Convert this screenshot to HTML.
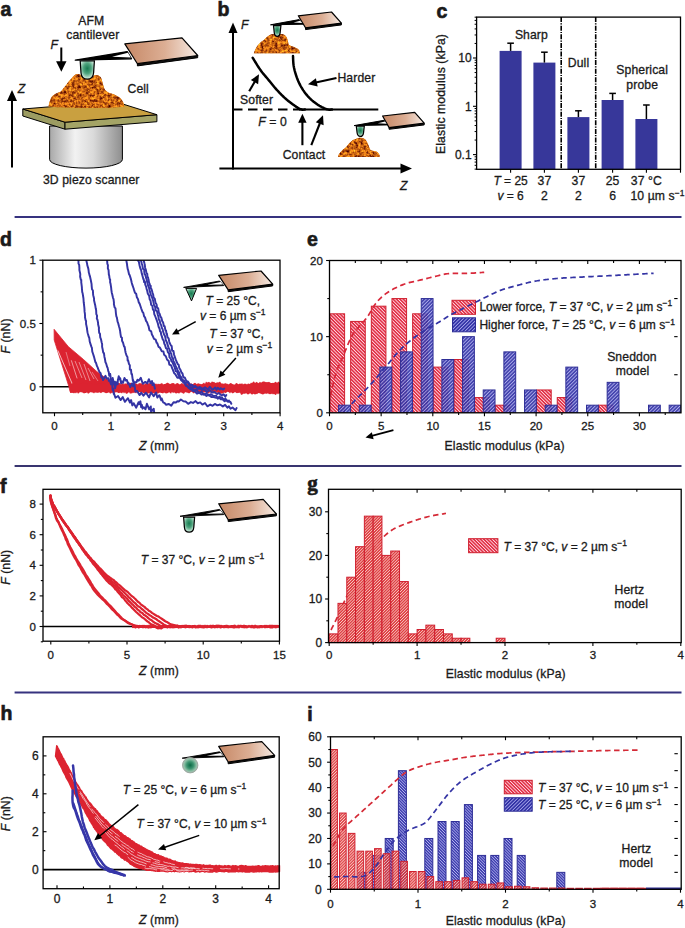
<!DOCTYPE html><html><head><meta charset="utf-8"><style>html,body{margin:0;padding:0;background:#fff;}svg{display:block;}text{stroke:#1a1a1a;stroke-width:0.3px;}text.l{letter-spacing:0.1px;}text.pl{stroke-width:0.65px;}</style></head><body>
<svg width="685" height="928" viewBox="0 0 685 928" font-family='"Liberation Sans", sans-serif' fill="#1a1a1a">
<defs>
<filter id="tex" x="-5%" y="-5%" width="110%" height="110%" color-interpolation-filters="sRGB">
  <feTurbulence type="fractalNoise" baseFrequency="0.36" numOctaves="3" seed="5" result="n"/>
  <feColorMatrix in="n" type="matrix" result="c" values="
     1.45 0 0 0 0.06
     1.2 0 0 0 -0.21
     0.25 0 0 0 -0.05
     0 0 0 0 1"/>
  <feComposite in="c" in2="SourceAlpha" operator="in"/>
</filter>
<linearGradient id="chipg" x1="0" y1="0" x2="1" y2="0">
  <stop offset="0" stop-color="#c68866"/>
  <stop offset="0.55" stop-color="#dcae94"/>
  <stop offset="1" stop-color="#f6ebe4"/>
</linearGradient>
<radialGradient id="tipg" cx="0.5" cy="0.42" r="0.62">
  <stop offset="0" stop-color="#167a50"/>
  <stop offset="0.45" stop-color="#4ea47e"/>
  <stop offset="0.85" stop-color="#c6e6d6"/>
  <stop offset="1" stop-color="#e6f4ec"/>
</radialGradient>
<radialGradient id="sphg" cx="0.5" cy="0.5" r="0.5">
  <stop offset="0" stop-color="#0a6a44"/>
  <stop offset="0.45" stop-color="#3c9470"/>
  <stop offset="0.8" stop-color="#8fc0a6"/>
  <stop offset="1" stop-color="#a8b8b0"/>
</radialGradient>
<linearGradient id="cylg" x1="0" y1="0" x2="1" y2="0">
  <stop offset="0" stop-color="#a8a8a8"/>
  <stop offset="0.35" stop-color="#f2f2f2"/>
  <stop offset="0.6" stop-color="#dadada"/>
  <stop offset="1" stop-color="#8e8e8e"/>
</linearGradient>
<pattern id="hrB" width="2.4" height="2.4" patternUnits="userSpaceOnUse" patternTransform="rotate(-45)">
  <rect width="2.4" height="2.4" fill="#e0283e"/><rect x="0" width="0.9" height="2.4" fill="#ffdce6"/>
</pattern>
<pattern id="hrF" width="2.05" height="2.05" patternUnits="userSpaceOnUse" patternTransform="rotate(45)">
  <rect width="2.05" height="2.05" fill="#dc2a30"/><rect x="0" width="0.72" height="2.05" fill="#f6c8c0"/>
</pattern>
<pattern id="hbF" width="2.5" height="2.5" patternUnits="userSpaceOnUse" patternTransform="rotate(45)">
  <rect width="2.5" height="2.5" fill="#3232a6"/><rect x="0" width="0.8" height="2.5" fill="#a8a8ec"/>
</pattern>
<pattern id="hbB" width="2.05" height="2.05" patternUnits="userSpaceOnUse" patternTransform="rotate(-45)">
  <rect width="2.05" height="2.05" fill="#3c3cae"/><rect x="0" width="0.72" height="2.05" fill="#b4b4ee"/>
</pattern>
</defs>
<rect width="685" height="928" fill="#fff"/>
<text x="0.5" y="15.5" font-size="19.5" text-anchor="start" class="pl" font-weight="bold">a</text>
<path d="M49.6 126 L49.6 159.5 A36.4 8.6 0 0 0 122.4 159.5 L122.4 126 Z" fill="url(#cylg)" stroke="#000" stroke-width="1"/>
<path d="M22.8 109 L65 122.2 L65 129.2 L22.8 116 Z" fill="#9c9c62" stroke="#000" stroke-width="1" stroke-linejoin="round"/>
<path d="M65 122.2 L156.9 114.7 L156.9 121.7 L65 129.2 Z" fill="#a4a466" stroke="#000" stroke-width="1" stroke-linejoin="round"/>
<path d="M22.8 109 L114.7 101.5 L156.9 114.7 L65 122.2 Z" fill="#c9a040" stroke="#000" stroke-width="1" stroke-linejoin="round"/>
<path d="M48.5 106.6 C49.5 101 51 97 53.1 95.5 C56 93 59 92.5 61 91.5 C63 89 64.5 87 66.3 85 C68 82 70 80 71.5 78.4 C73.5 76 75 74.6 77 74 C79 73.6 81 74.5 82.5 77 L92.6 77.5 C93.5 75.5 95 75 97 75.3 C99 75.6 100.5 76.5 101.5 79 C102.5 82 103 85 104 88 C105 91 108 92.5 111 93.5 C114.5 94.5 118 96 120.2 98.1 C122 100 123.2 102 123.8 104 L124.1 106.8 C105 108.5 70 108.5 48.5 106.6 Z" fill="#c8781e"/>
<path d="M48.5 106.6 C49.5 101 51 97 53.1 95.5 C56 93 59 92.5 61 91.5 C63 89 64.5 87 66.3 85 C68 82 70 80 71.5 78.4 C73.5 76 75 74.6 77 74 C79 73.6 81 74.5 82.5 77 L92.6 77.5 C93.5 75.5 95 75 97 75.3 C99 75.6 100.5 76.5 101.5 79 C102.5 82 103 85 104 88 C105 91 108 92.5 111 93.5 C114.5 94.5 118 96 120.2 98.1 C122 100 123.2 102 123.8 104 L124.1 106.8 C105 108.5 70 108.5 48.5 106.6 Z" fill="#000" filter="url(#tex)" opacity="0.95"/>
<path d="M137.4 63.7 L197.7 55.5 L197.7 57.7 L137.4 65.9 Z" fill="#111" stroke="#000" stroke-width="1" stroke-linejoin="round"/>
<path d="M124.8 43.9 L182 37.8 L197.7 55.5 L137.4 63.7 Z" fill="url(#chipg)" stroke="#000" stroke-width="1.2" stroke-linejoin="round"/>
<path d="M75.3 60.2 L127.2 51.6 L131.5 58.8 Z" fill="#000" stroke="#000" stroke-width="1.3" stroke-linejoin="round"/>
<path d="M112.05 56.8 L127.94 52.84 L130.76 57.56 Z" fill="#fff"/>
<path d="M80.2 60.8 L94.4 60.8 L93.6 72.81 Q93.2 79.2 87.3 79.2 Q81.4 79.2 81 72.81 Z" fill="url(#tipg)" stroke="#000" stroke-width="1.25"/>
<line x1="12" y1="167.4" x2="12" y2="100" stroke="#000" stroke-width="2" />
<path d="M12 90 L17 101 L7 101 Z" fill="#000"/>
<text x="17.8" y="93" font-size="12.2" text-anchor="start" class="l" font-style="italic">Z</text>
<line x1="61.3" y1="47.5" x2="61.3" y2="62.3" stroke="#000" stroke-width="2" />
<path d="M61.3 71.8 L56.1 61.3 L66.5 61.3 Z" fill="#000"/>
<text x="50.6" y="49.3" font-size="12.2" text-anchor="start" class="l" font-style="italic">F</text>
<text x="91.2" y="24.5" font-size="12.2" text-anchor="middle" class="l" >AFM</text>
<text x="92.8" y="39.4" font-size="12.2" text-anchor="middle" class="l" >cantilever</text>
<text x="138.2" y="92.9" font-size="12.2" text-anchor="middle" class="l" >Cell</text>
<text x="91.2" y="184.2" font-size="12.2" text-anchor="middle" class="l" >3D piezo scanner</text>
<text x="217.5" y="15.5" font-size="19.5" text-anchor="start" class="pl" font-weight="bold">b</text>
<line x1="233" y1="169.5" x2="233" y2="32" stroke="#000" stroke-width="2" />
<path d="M233 22.5 L237.5 33 L228.5 33 Z" fill="#000"/>
<line x1="219.4" y1="168.6" x2="401.5" y2="168.6" stroke="#000" stroke-width="2" />
<path d="M412 168.6 L400.5 173.6 L400.5 163.6 Z" fill="#000"/>
<text x="241" y="28.5" font-size="12.2" text-anchor="start" class="l" font-style="italic">F</text>
<text x="400" y="190.2" font-size="12.2" text-anchor="start" class="l" font-style="italic">Z</text>
<line x1="233" y1="109.5" x2="300" y2="109.5" stroke="#000" stroke-width="2" stroke-dasharray="9.5 5.5"/>
<line x1="299" y1="109.5" x2="378.3" y2="109.5" stroke="#000" stroke-width="2" />
<path d="M252.7 57.8 L253.08 58.41 L253.56 59.18 L254.12 60.09 L254.75 61.12 L255.43 62.24 L256.16 63.41 L256.9 64.61 L257.66 65.81 L258.42 66.99 L259.15 68.12 L259.85 69.16 L260.5 70.1 L261.31 71.21 L262.09 72.24 L262.86 73.2 L263.62 74.11 L264.37 75.01 L265.14 75.9 L265.93 76.81 L266.74 77.77 L267.6 78.8 L268.33 79.69 L269.08 80.62 L269.86 81.58 L270.65 82.56 L271.45 83.55 L272.26 84.54 L273.07 85.53 L273.88 86.51 L274.7 87.47 L275.5 88.4 L276.3 89.3 L277.17 90.26 L278.04 91.2 L278.91 92.12 L279.78 93.03 L280.64 93.92 L281.51 94.79 L282.38 95.65 L283.25 96.48 L284.13 97.3 L285 98.1 L285.98 98.97 L286.98 99.83 L287.99 100.67 L289 101.49 L290.01 102.28 L291 103.04 L291.96 103.77 L292.9 104.46 L293.8 105.1 L295.1 106.01 L296.37 106.86 L297.59 107.62 L298.74 108.3 L299.82 108.86 L300.8 109.3 L302.56 109.67 L304.01 109.6 L305 109.5" fill="none" stroke="#000" stroke-width="2.5" stroke-linejoin="round" stroke-linecap="round" />
<path d="M293 56 L293.04 56.81 L293.08 57.87 L293.12 59.13 L293.18 60.54 L293.27 62.04 L293.39 63.59 L293.57 65.13 L293.8 66.6 L294.03 67.76 L294.3 68.96 L294.59 70.2 L294.92 71.45 L295.27 72.71 L295.64 73.97 L296.03 75.21 L296.44 76.44 L296.86 77.64 L297.3 78.8 L297.8 80.05 L298.32 81.28 L298.87 82.49 L299.44 83.68 L300.03 84.84 L300.64 85.99 L301.27 87.11 L301.93 88.22 L302.6 89.3 L303.29 90.36 L304.01 91.4 L304.74 92.43 L305.5 93.43 L306.27 94.41 L307.07 95.36 L307.89 96.3 L308.73 97.21 L309.6 98.1 L310.5 98.97 L311.44 99.83 L312.4 100.67 L313.39 101.49 L314.4 102.28 L315.41 103.04 L316.42 103.77 L317.42 104.46 L318.4 105.1 L319.52 105.79 L320.67 106.44 L321.84 107.06 L322.99 107.62 L324.12 108.14 L325.19 108.6 L326.2 108.99 L327.1 109.3 L328.71 109.64 L330.09 109.66 L331.21 109.56 L332 109.5" fill="none" stroke="#000" stroke-width="2.5" stroke-linejoin="round" stroke-linecap="round" />
<line x1="249.2" y1="91.3" x2="255" y2="81.23" stroke="#000" stroke-width="2.1" />
<path d="M259 74.3 L258.14 84.19 L250.87 80 Z" fill="#000"/>
<text x="256.6" y="104.2" font-size="12.2" text-anchor="middle" class="l" >Softer</text>
<line x1="336.5" y1="78" x2="315.82" y2="82.5" stroke="#000" stroke-width="2.1" />
<path d="M308 84.2 L315.9 78.18 L317.69 86.39 Z" fill="#000"/>
<text x="356.4" y="82.4" font-size="12.2" text-anchor="middle" class="l" >Harder</text>
<text x="272.5" y="125.6" font-size="12.2" text-anchor="middle" class="l" ><tspan font-style="italic">F</tspan> = 0</text>
<line x1="302.4" y1="145.2" x2="302.4" y2="121.8" stroke="#000" stroke-width="2.1" />
<path d="M302.4 113.8 L306.6 122.8 L298.2 122.8 Z" fill="#000"/>
<line x1="311.3" y1="145.2" x2="320.08" y2="122.75" stroke="#000" stroke-width="2.1" />
<path d="M323 115.3 L323.63 125.21 L315.81 122.15 Z" fill="#000"/>
<text x="304" y="159.4" font-size="12.2" text-anchor="middle" class="l" >Contact</text>
<path d="M253.8 53.3 C255 50 256.5 47 258.1 45 C260 42.5 262 41 264 39.9 C266 38 267.5 36.5 269.1 35.5 C271 34.5 272.5 34.1 274.2 34.1 L281.5 34.1 C283.5 34.5 285 35.2 285.9 36.3 C287 38 287.8 40 288 41.4 C288.3 43 288.5 44.5 289 45 C291 46 293 46.5 294.6 47.2 C296.5 48 298 49 299 50.1 L299.9 53.3 Z" fill="#c8781e"/>
<path d="M253.8 53.3 C255 50 256.5 47 258.1 45 C260 42.5 262 41 264 39.9 C266 38 267.5 36.5 269.1 35.5 C271 34.5 272.5 34.1 274.2 34.1 L281.5 34.1 C283.5 34.5 285 35.2 285.9 36.3 C287 38 287.8 40 288 41.4 C288.3 43 288.5 44.5 289 45 C291 46 293 46.5 294.6 47.2 C296.5 48 298 49 299 50.1 L299.9 53.3 Z" fill="#000" filter="url(#tex)" opacity="0.95"/>
<path d="M305.5 27.8 L341.4 23.1 L341.4 24.9 L305.5 29.6 Z" fill="#111" stroke="#000" stroke-width="1" stroke-linejoin="round"/>
<path d="M298.3 15.8 L331.5 12 L341.4 23.1 L305.5 27.8 Z" fill="url(#chipg)" stroke="#000" stroke-width="1.2" stroke-linejoin="round"/>
<path d="M270.5 24.8 L299.2 19.6 L303.2 24.2 Z" fill="#000" stroke="#000" stroke-width="1" stroke-linejoin="round"/>
<path d="M293.52 22.62 L300.15 20.69 L302.25 23.11 Z" fill="#fff"/>
<path d="M273.5 25.6 L280.9 25.6 L280.1 32.97 Q279.7 36.3 277.2 36.3 Q274.7 36.3 274.3 32.97 Z" fill="url(#tipg)" stroke="#000" stroke-width="1.25"/>
<path d="M338 156.9 C338.5 154.5 339.5 153 341 151.7 C343 149.5 344.5 148.5 346 147.3 C347.5 145.5 349 143.5 350.4 142.2 C352 140.8 353.3 139.8 354.8 139.3 C357 138.5 359 137.8 360.7 137.8 C363 138 364.8 138.8 365.8 140 C367 142 368 144 368.7 145.9 C369.5 148 370 149.5 370.9 150.3 C373 151 375 151.2 376.7 151.7 C378.3 152.5 379.2 154 379.6 155.4 L379.7 156.9 Z" fill="#c8781e"/>
<path d="M338 156.9 C338.5 154.5 339.5 153 341 151.7 C343 149.5 344.5 148.5 346 147.3 C347.5 145.5 349 143.5 350.4 142.2 C352 140.8 353.3 139.8 354.8 139.3 C357 138.5 359 137.8 360.7 137.8 C363 138 364.8 138.8 365.8 140 C367 142 368 144 368.7 145.9 C369.5 148 370 149.5 370.9 150.3 C373 151 375 151.2 376.7 151.7 C378.3 152.5 379.2 154 379.6 155.4 L379.7 156.9 Z" fill="#000" filter="url(#tex)" opacity="0.95"/>
<path d="M389.1 127.6 L424.2 123.2 L424.2 124.9 L389.1 129.3 Z" fill="#111" stroke="#000" stroke-width="1" stroke-linejoin="round"/>
<path d="M382.6 116 L414.7 112.3 L424.2 123.2 L389.1 127.6 Z" fill="url(#chipg)" stroke="#000" stroke-width="1.2" stroke-linejoin="round"/>
<path d="M354.1 125.6 L384.1 120.3 L387.6 124.9 Z" fill="#000" stroke="#000" stroke-width="1" stroke-linejoin="round"/>
<path d="M377.91 123.35 L384.98 121.45 L386.72 123.75 Z" fill="#fff"/>
<path d="M356.3 126.2 L364.3 126.2 L363.5 132.8 Q363.1 136.4 360.3 136.4 Q357.5 136.4 357.1 132.8 Z" fill="url(#tipg)" stroke="#000" stroke-width="1.25"/>
<text x="436.5" y="17.6" font-size="19.5" text-anchor="start" class="pl" font-weight="bold">c</text>
<rect x="499.6" y="50.9" width="22" height="118.4" fill="#37379a"/>
<line x1="510.6" y1="50.9" x2="510.6" y2="43.2" stroke="#000" stroke-width="1.5" />
<line x1="507.3" y1="43.2" x2="513.9" y2="43.2" stroke="#000" stroke-width="1.5" />
<rect x="533.4" y="62.6" width="22" height="106.7" fill="#37379a"/>
<line x1="544.4" y1="62.6" x2="544.4" y2="52.2" stroke="#000" stroke-width="1.5" />
<line x1="541.1" y1="52.2" x2="547.7" y2="52.2" stroke="#000" stroke-width="1.5" />
<rect x="567.4" y="117.1" width="22" height="52.2" fill="#37379a"/>
<line x1="578.4" y1="117.1" x2="578.4" y2="110.8" stroke="#000" stroke-width="1.5" />
<line x1="575.1" y1="110.8" x2="581.7" y2="110.8" stroke="#000" stroke-width="1.5" />
<rect x="601.6" y="100" width="22" height="69.3" fill="#37379a"/>
<line x1="612.6" y1="100" x2="612.6" y2="93.4" stroke="#000" stroke-width="1.5" />
<line x1="609.3" y1="93.4" x2="615.9" y2="93.4" stroke="#000" stroke-width="1.5" />
<rect x="635.4" y="119" width="22" height="50.3" fill="#37379a"/>
<line x1="646.4" y1="119" x2="646.4" y2="105" stroke="#000" stroke-width="1.5" />
<line x1="643.1" y1="105" x2="649.7" y2="105" stroke="#000" stroke-width="1.5" />
<line x1="561.2" y1="17.1" x2="561.2" y2="169.3" stroke="#000" stroke-width="1.6" stroke-dasharray="5 1.2 1.2 1.2"/>
<line x1="595.7" y1="17.1" x2="595.7" y2="169.3" stroke="#000" stroke-width="1.6" stroke-dasharray="5 1.2 1.2 1.2"/>
<rect x="476.6" y="17.1" width="203.9" height="152.2" fill="none" stroke="#000" stroke-width="1.3"/>
<line x1="473" y1="58" x2="476.6" y2="58" stroke="#000" stroke-width="1.1" />
<line x1="473" y1="106.3" x2="476.6" y2="106.3" stroke="#000" stroke-width="1.1" />
<line x1="473" y1="154.6" x2="476.6" y2="154.6" stroke="#000" stroke-width="1.1" />
<line x1="474.6" y1="169.14" x2="476.6" y2="169.14" stroke="#000" stroke-width="1" />
<line x1="474.6" y1="165.32" x2="476.6" y2="165.32" stroke="#000" stroke-width="1" />
<line x1="474.6" y1="162.08" x2="476.6" y2="162.08" stroke="#000" stroke-width="1" />
<line x1="474.6" y1="159.28" x2="476.6" y2="159.28" stroke="#000" stroke-width="1" />
<line x1="474.6" y1="156.81" x2="476.6" y2="156.81" stroke="#000" stroke-width="1" />
<line x1="474.6" y1="140.06" x2="476.6" y2="140.06" stroke="#000" stroke-width="1" />
<line x1="474.6" y1="131.56" x2="476.6" y2="131.56" stroke="#000" stroke-width="1" />
<line x1="474.6" y1="125.52" x2="476.6" y2="125.52" stroke="#000" stroke-width="1" />
<line x1="474.6" y1="120.84" x2="476.6" y2="120.84" stroke="#000" stroke-width="1" />
<line x1="474.6" y1="117.02" x2="476.6" y2="117.02" stroke="#000" stroke-width="1" />
<line x1="474.6" y1="113.78" x2="476.6" y2="113.78" stroke="#000" stroke-width="1" />
<line x1="474.6" y1="110.98" x2="476.6" y2="110.98" stroke="#000" stroke-width="1" />
<line x1="474.6" y1="108.51" x2="476.6" y2="108.51" stroke="#000" stroke-width="1" />
<line x1="474.6" y1="91.76" x2="476.6" y2="91.76" stroke="#000" stroke-width="1" />
<line x1="474.6" y1="83.26" x2="476.6" y2="83.26" stroke="#000" stroke-width="1" />
<line x1="474.6" y1="77.22" x2="476.6" y2="77.22" stroke="#000" stroke-width="1" />
<line x1="474.6" y1="72.54" x2="476.6" y2="72.54" stroke="#000" stroke-width="1" />
<line x1="474.6" y1="68.72" x2="476.6" y2="68.72" stroke="#000" stroke-width="1" />
<line x1="474.6" y1="65.48" x2="476.6" y2="65.48" stroke="#000" stroke-width="1" />
<line x1="474.6" y1="62.68" x2="476.6" y2="62.68" stroke="#000" stroke-width="1" />
<line x1="474.6" y1="60.21" x2="476.6" y2="60.21" stroke="#000" stroke-width="1" />
<line x1="474.6" y1="43.46" x2="476.6" y2="43.46" stroke="#000" stroke-width="1" />
<line x1="474.6" y1="34.96" x2="476.6" y2="34.96" stroke="#000" stroke-width="1" />
<line x1="474.6" y1="28.92" x2="476.6" y2="28.92" stroke="#000" stroke-width="1" />
<line x1="474.6" y1="24.24" x2="476.6" y2="24.24" stroke="#000" stroke-width="1" />
<line x1="474.6" y1="20.42" x2="476.6" y2="20.42" stroke="#000" stroke-width="1" />
<line x1="474.6" y1="17.18" x2="476.6" y2="17.18" stroke="#000" stroke-width="1" />
<text x="471.6" y="62.3" font-size="12" text-anchor="end">10</text>
<text x="471.6" y="110.6" font-size="12" text-anchor="end">1</text>
<text x="471.6" y="158.9" font-size="12" text-anchor="end">0.1</text>
<line x1="510.6" y1="169.3" x2="510.6" y2="172.7" stroke="#000" stroke-width="1.1" />
<line x1="544.4" y1="169.3" x2="544.4" y2="172.7" stroke="#000" stroke-width="1.1" />
<line x1="578.4" y1="169.3" x2="578.4" y2="172.7" stroke="#000" stroke-width="1.1" />
<line x1="612.6" y1="169.3" x2="612.6" y2="172.7" stroke="#000" stroke-width="1.1" />
<line x1="646.4" y1="169.3" x2="646.4" y2="172.7" stroke="#000" stroke-width="1.1" />
<line x1="680.5" y1="169.3" x2="680.5" y2="172.7" stroke="#000" stroke-width="1.1" />
<text class="l" x="445.2" y="94" font-size="12.2" text-anchor="middle" transform="rotate(-90 445.2 94)">Elastic modulus (kPa)</text>
<text x="531.4" y="39.4" font-size="12.2" text-anchor="middle" class="l" >Sharp</text>
<text x="578.5" y="66.5" font-size="12.2" text-anchor="middle" class="l" >Dull</text>
<text x="642.2" y="74.4" font-size="12.2" text-anchor="middle" class="l" >Spherical</text>
<text x="642.2" y="88.8" font-size="12.2" text-anchor="middle" class="l" >probe</text>
<text x="510.6" y="184.7" font-size="12" text-anchor="middle" ><tspan font-style="italic">T</tspan> = 25</text>
<text x="544.4" y="184.7" font-size="12.2" text-anchor="middle" class="l" >37</text>
<text x="578.4" y="184.7" font-size="12.2" text-anchor="middle" class="l" >37</text>
<text x="612.6" y="184.7" font-size="12.2" text-anchor="middle" class="l" >25</text>
<text x="646.4" y="184.7" font-size="12.2" text-anchor="middle" class="l" >37 °C</text>
<text x="510.6" y="200" font-size="12" text-anchor="middle" ><tspan font-style="italic">v</tspan> = 6</text>
<text x="544.4" y="200" font-size="12.2" text-anchor="middle" class="l" >2</text>
<text x="578.4" y="200" font-size="12.2" text-anchor="middle" class="l" >2</text>
<text x="612.6" y="200" font-size="12.2" text-anchor="middle" class="l" >6</text>
<text x="657.5" y="200" font-size="12.2" text-anchor="middle" class="l" >10 µm s<tspan dy="-4.5" font-size="8.5">−1</tspan></text>
<line x1="14.6" y1="217" x2="681.5" y2="217" stroke="#36327f" stroke-width="2.2" />
<line x1="14.6" y1="466" x2="681.5" y2="466" stroke="#393570" stroke-width="2" />
<line x1="14.6" y1="692.5" x2="681.5" y2="692.5" stroke="#36327f" stroke-width="2.2" />
<text x="0" y="245.5" font-size="19.5" text-anchor="start" class="pl" font-weight="bold">d</text>
<svg x="42.8" y="260.2" width="237.2" height="152.6" viewBox="42.8 260.2 237.2 152.6" overflow="hidden">
<line x1="42.8" y1="386.8" x2="72" y2="386.8" stroke="#000" stroke-width="1.6" />
<path d="M54.1 329.3 L68.4 346.7 L83.5 359.5 L96.4 371.2 L110.4 381.7 L118 384 L118 391.5 L70.1 391.8 L68.9 386.6 L54.2 340 Z" fill="#dc2330" stroke="#dc2330" stroke-width="0.8" stroke-linejoin="round"/>
<line x1="57.8" y1="350.4" x2="72.4" y2="384.2" stroke="#fff" stroke-width="0.81" opacity="0.85"/>
<line x1="71.3" y1="360.3" x2="77.1" y2="378.4" stroke="#fff" stroke-width="0.63" opacity="0.85"/>
<line x1="75" y1="361" x2="82" y2="378" stroke="#fff" stroke-width="0.54" opacity="0.85"/>
<line x1="79" y1="362" x2="86" y2="380" stroke="#fff" stroke-width="0.54" opacity="0.85"/>
<line x1="84" y1="364" x2="90" y2="381" stroke="#fff" stroke-width="0.54" opacity="0.85"/>
<line x1="88" y1="368" x2="94" y2="379" stroke="#fff" stroke-width="0.54" opacity="0.85"/>
<line x1="66" y1="352" x2="70" y2="366" stroke="#fff" stroke-width="0.45" opacity="0.85"/>
<line x1="92" y1="372" x2="98" y2="381" stroke="#fff" stroke-width="0.45" opacity="0.85"/>
<path d="M70 383.5 L71 384.45 L72 383.62 L73 382.97 L74 383.86 L75 382.79 L76 382.78 L77 383.99 L78 384.56 L79 383.91 L80 382.91 L81 383.66 L82 382.98 L83 382.66 L84 383.48 L85 383.64 L86 383.6 L87 383.51 L88 384.6 L89 384.28 L90 383.23 L91 383.18 L92 384.13 L93 384.29 L94 384.52 L95 382.6 L96 384.42 L97 384.56 L98 382.75 L99 384.16 L100 382.77 L101 384.53 L102 382.84 L103 382.8 L104 384.19 L105 383.72 L106 382.98 L107 382.86 L108 382.83 L109 383.03 L110 384.54 L111 383.21 L112 383.02 L113 384.31 L114 382.8 L115 383.03 L116 384.15 L117 383.19 L118 382.78 L119 383.09 L120 383.34 L121 384.52 L122 383.75 L123 382.97 L124 384.42 L125 383.1 L126 384.08 L127 382.99 L128 384.36 L129 383.44 L130 382.68 L131 383.08 L132 383.11 L133 383.79 L134 382.95 L135 382.74 L136 383.72 L137 383.83 L138 384.43 L139 382.63 L140 383.49 L141 382.95 L142 383.74 L143 383.32 L144 384.56 L145 383.98 L146 382.88 L147 382.64 L148 384 L149 382.64 L150 383.56 L151 383.24 L152 382.75 L153 384.07 L154 384.07 L155 384.19 L156 383.3 L157 384.4 L158 383.43 L159 384.33 L160 383.85 L161 383.77 L162 382.76 L163 384.59 L164 384.06 L165 384.07 L166 383.48 L167 382.77 L168 382.66 L169 383.56 L170 384 L171 383.83 L172 383.11 L173 383.2 L174 383.01 L175 384.41 L176 383.48 L177 383.25 L178 383 L179 384.21 L180 384.36 L181 383.77 L182 382.87 L183 384.27 L184 384.02 L185 383.15 L186 383.5 L187 383.03 L188 383.85 L189 383.23 L190 384.56 L191 382.75 L192 384.35 L193 384.02 L194 383.22 L195 382.64 L196 383.51 L197 384.26 L198 382.88 L199 383.86 L200 383.86 L201 384.21 L202 383.97 L203 383.55 L204 382.62 L205 384.03 L206 381.54 L207 382.39 L208 382.23 L209 381.79 L210 382.81 L211 382.87 L212 381.26 L213 382.25 L214 381.75 L215 382.76 L216 382.89 L217 382.3 L218 382.44 L219 382.28 L220 381.43 L221 382.96 L222 383.67 L223 383.24 L224 384.31 L225 382.77 L226 383.7 L227 383.57 L228 384.22 L229 384.2 L230 383.27 L231 382.88 L232 383.63 L233 384.28 L234 384.49 L235 384.5 L236 383.04 L237 383.18 L238 383.88 L239 384.29 L240 383.22 L241 384.29 L242 383.02 L243 384.54 L244 383.75 L245 383.67 L246 383.81 L247 384.54 L248 383.4 L249 383.73 L250 383.98 L251 382.38 L252 383.21 L253 381.84 L254 381.55 L255 382.93 L256 382.25 L257 381.68 L258 383.15 L259 382.86 L260 381.69 L261 382.67 L262 382.01 L263 381.51 L264 381.55 L265 381.8 L266 382.36 L267 382.05 L268 382.36 L269 381.71 L270 382.58 L271 383 L272 383.01 L273 382.78 L274 383.11 L275 381.93 L276 381.74 L277 383.08 L278 381.78 L279 381.82 L280 382.96 L281 382.88 L281 393.25 L280 393.84 L279 393.19 L278 394.45 L277 393.27 L276 395 L275 394.85 L274 393.63 L273 394.62 L272 393.47 L271 394.22 L270 394.06 L269 394.26 L268 393.32 L267 393.83 L266 393.87 L265 393.4 L264 394.02 L263 394.46 L262 394.24 L261 393.64 L260 393.45 L259 393.05 L258 393.26 L257 394.24 L256 393.63 L255 394.8 L254 393.87 L253 393.95 L252 394.85 L251 393.83 L250 393.13 L249 393.98 L248 394.6 L247 394.03 L246 393.06 L245 394.01 L244 393.4 L243 394.05 L242 394.7 L241 394.8 L240 392.56 L239 392.92 L238 392.85 L237 393.26 L236 392.85 L235 391.97 L234 392.79 L233 393.18 L232 393.25 L231 392.1 L230 393.38 L229 392.15 L228 391.93 L227 391.86 L226 393.34 L225 392.68 L224 392.5 L223 393.62 L222 393.38 L221 393.75 L220 393.6 L219 393.24 L218 393.44 L217 392.21 L216 392.73 L215 393.39 L214 392.94 L213 393.62 L212 392.71 L211 393.24 L210 391.97 L209 393.38 L208 393.31 L207 392.84 L206 392.49 L205 392.16 L204 392.74 L203 392.16 L202 392.2 L201 393.72 L200 393.11 L199 392.69 L198 391.89 L197 392.27 L196 391.85 L195 392.07 L194 393.38 L193 392.94 L192 391.88 L191 391.86 L190 392.7 L189 393.48 L188 392.79 L187 392.63 L186 392.35 L185 392.14 L184 393.7 L183 393.5 L182 392.79 L181 392.43 L180 392.57 L179 393.63 L178 392.66 L177 393.13 L176 393.58 L175 393.12 L174 392.14 L173 393.16 L172 391.82 L171 393.64 L170 392.79 L169 392.26 L168 393 L167 393.3 L166 393.48 L165 392.96 L164 392.58 L163 393.56 L162 393.08 L161 393.02 L160 392.56 L159 392.95 L158 393.38 L157 393.54 L156 393.17 L155 393.63 L154 393.21 L153 393.6 L152 392.89 L151 393.8 L150 393.26 L149 393.07 L148 393.73 L147 393.62 L146 391.87 L145 392.97 L144 393.11 L143 393.58 L142 392.06 L141 392.54 L140 391.92 L139 392.34 L138 392.21 L137 392.36 L136 393.5 L135 392.26 L134 393.24 L133 392.39 L132 393.45 L131 393.21 L130 393.73 L129 392.01 L128 393.01 L127 393.7 L126 393.68 L125 392.18 L124 393.44 L123 392.11 L122 393.53 L121 392.77 L120 392.71 L119 393 L118 392.97 L117 391.95 L116 392.46 L115 392.32 L114 393.78 L113 393.08 L112 392.59 L111 393.57 L110 393.41 L109 392.34 L108 392.64 L107 393.09 L106 393.26 L105 392.69 L104 392.16 L103 391.92 L102 392.29 L101 393.32 L100 392.47 L99 392.34 L98 393.06 L97 392.59 L96 392.74 L95 392.22 L94 393.49 L93 392.57 L92 392.6 L91 391.94 L90 392.26 L89 393.22 L88 393.79 L87 392.36 L86 393.12 L85 393.08 L84 393.48 L83 392.73 L82 392.28 L81 391.92 L80 391.83 L79 393.03 L78 393.73 L77 391.88 L76 393.42 L75 392.41 L74 393.39 L73 392.82 L72 392.97 L71 392.73 L70 392.92 Z" fill="#dc2330"/>
<path d="M77.8 258 L78.14 260.19 L78.46 260.89 L78.51 263.65 L79.18 264.92 L79.41 268.15 L79.38 269.93 L80.31 274.11 L80.23 274.57 L80.15 276.88 L80.24 276.96 L80.83 279.75 L81.27 279.87 L81.27 282.85 L81.39 283.31 L81.87 287.07 L81.9 288.27 L82.24 292.1 L82.64 293.28 L83.22 296.98 L83.47 298.71 L83.69 302.25 L83.83 303.21 L84.29 307.23 L84.43 308.64 L84.61 311.91 L84.87 313.43 L85.08 316.29 L85 317.27 L85.65 320.22 L86.06 320.99 L86.07 324.07 L86.44 325.64 L87.02 328.45 L87.02 329.05 L87.47 332.22 L87.94 334.02 L88.79 336.91 L89.29 338 L89.73 341.55 L90.45 343.84 L91.45 346.88 L91.86 347.69 L92.29 351.56 L92.95 353.46 L93.86 356.36 L94.25 357.78 L95.36 362.01 L95.9 362.62 L96.67 364.99 L96.69 365.43 L97.75 367.62 L98.23 369.2 L99.55 372.15 L100.61 373.18 L101.46 377.44 L101.86 376.43 L103.06 380.1 L105.49 375.83 L106.81 378.57 L108.55 378.13 L108.81 380.85 L109.57 380 L111.09 384.48 L112.66 378.06 L114.19 384.75 L114.92 381.64 L115.11 388.35 L116.59 382.18 L117.58 384.34 L117.91 379.5 L117.8 380.69 L118.74 376.22 L119.98 379.8 L120.18 378.23 L121.06 383.3 L121.82 381.5 L123.05 382.83 L124.45 377.97 L125.88 380.46 L126.87 379.99 L128.06 383.81 L128.4 382.74 L130.3 387.18 L131.87 383.53 L133.12 386.24 L133.66 382.2 L136.42 382.25 L137.53 379.65 L138.75 380.69 L140.79 377.82 L142.8 383.8 L145.31 381.9 L147.34 383.37 L148.86 379.19 L150.66 383.23 L152.04 381.07 L152.48 385.1 L153.7 383.33 L154.9 388.73" fill="none" stroke="#3434a4" stroke-width="1.95" stroke-linejoin="round" stroke-linecap="round" />
<path d="M85.8 258 L86.41 260.05 L86.32 260.45 L87.13 263.87 L87.24 265 L88.31 268.62 L88.6 270.49 L88.82 272.64 L89.06 273.26 L89.74 275.92 L89.84 275.79 L90.6 279.17 L91.02 281.26 L91.58 284.16 L91.63 285.58 L92 289.24 L92.89 290.56 L93.13 294.71 L93.42 296.07 L94.09 298.72 L94.03 300.33 L95.01 304.43 L95.27 305.56 L95.7 308.32 L96.14 310.3 L96.31 314.1 L97.06 315.63 L96.82 318.78 L97.39 319.41 L98.1 323.01 L98.09 324.21 L99.01 328.06 L98.82 328.92 L99.19 332.92 L99.94 333.73 L100.24 337.4 L100.93 339.03 L101.67 342.49 L102.11 344.1 L102.12 346.88 L102.53 348.67 L103.23 352.47 L103.93 353.23 L104.44 356.96 L104.9 358.74 L105.47 362.27 L106.13 363.4 L107.21 367.2 L107.57 367.58 L108.32 371.34 L108.78 372.08 L109.22 375.69 L110.15 373.92 L111.06 380.25 L111.34 379.02 L112.33 385.24 L112.37 382.38 L112.36 387.36 L112.42 387.11 L112.63 390.05 L113.18 388.67 L113.75 393.97 L113.78 392.85 L115.44 397.81 L118.06 396 L120.56 400.06 L122.75 397.15 L124.88 401.8 L127.95 398.17 L129.93 402.56 L131.08 400.05 L132.35 405.4 L133.67 403.19 L136.25 407.66 L138.49 402.27 L138.98 404.35 L140.42 401.28 L141.13 407.04 L141.88 404.83 L142.48 408.7 L143.81 407.24 L145.5 409.25 L146.9 403.76 L149.19 409.39 L150.8 406.43 L151.03 411.82 L153.75 408.76 L154.18 412.37" fill="none" stroke="#3434a4" stroke-width="1.95" stroke-linejoin="round" stroke-linecap="round" />
<path d="M106.6 258 L106.95 260.01 L107.14 260.89 L107.37 263.87 L107.94 265.15 L107.84 268.31 L108.55 270.09 L108.81 273.6 L108.77 274.12 L109.35 276.15 L109.32 277.08 L109.82 279.34 L110.15 279.56 L110.13 282.35 L110.53 283.63 L111.18 287.96 L111.29 289.27 L111.82 292.91 L112.14 294.06 L112.99 297.76 L113.52 299.06 L113.98 302.84 L113.88 303.97 L114.59 307.28 L115.48 308.33 L115.78 311.74 L115.91 313.35 L116.36 316.32 L116.91 317.63 L117.61 321.86 L118.12 322.9 L119.03 326.47 L119.63 328.46 L120.21 331.69 L120.24 332.42 L121.01 337.06 L121.94 337.8 L122.04 340.7 L123.06 342.68 L123.98 346.24 L124.64 347 L125.31 351.03 L125.65 352.74 L126.52 355.55 L127.46 357.01 L127.63 360.49 L128.08 360.27 L128.98 363.97 L129.84 365.21 L129.83 369.53 L131.03 369.8 L131.4 374.03 L131.92 373.93 L132.9 380.79 L133.12 380 L134.18 384.35 L134.11 382.99 L134.96 388.28 L134.62 385.64 L135.41 391.72 L136.93 390.84 L139.53 395.09 L141.13 392.68 L143.45 395.73 L146 392.69 L149.1 397.39 L151.01 392.39 L153.69 396.24 L156.11 392.57 L157.31 397.65 L159.37 395.16 L161.29 400.33 L161.76 398.56 L163.08 402.29 L164.78 403.1 L165.97 404.76 L168.92 403.95 L171.25 405.6 L173.56 402.18 L175.89 402.55 L177.31 401.3 L178.72 401.45 L180.89 399.45 L183.35 401.18 L185.58 401.53 L188.18 403.84 L190.86 402.09 L193 402.93 L195.59 401.06 L197.71 403.21 L200.22 402.41 L202.39 404.57 L205.01 403.02 L207.33 406.29 L210.27 404.54 L212.59 405.83 L214.88 403.91 L217.36 405.32 L219.99 404.54 L222.83 406.43 L225.12 404.88 L227.37 407.64 L228.93 406.35 L230.5 408.77 L232.51 407.45 L235.54 410.17 L236.58 408.08" fill="none" stroke="#3434a4" stroke-width="1.95" stroke-linejoin="round" stroke-linecap="round" />
<path d="M125.5 258 L126 259.5 L126.35 260.57 L127.08 264.54 L127.12 265.37 L127.73 269.23 L128.14 270.18 L129.04 274.16 L129.66 275.14 L130.61 278.11 L131.13 280.09 L131.79 282.98 L132.36 284.95 L133.63 288.54 L134.03 289.9 L134.95 292.73 L136.15 293.73 L136.89 297.36 L138.02 299.33 L138.8 302.4 L139.59 303.59 L140.73 306.97 L141.14 308.21 L142.46 311.83 L143.31 312.89 L144.1 316.29 L145.01 317.4 L146.04 320.9 L147.05 322.29 L148.17 325.46 L148.52 326.04 L149.43 330.19 L151.2 331.39 L151.89 334.5 L152.8 336.04 L154.02 338.88 L155.64 339.65 L156.67 342.85 L157.25 343.09 L158.6 346.97 L159.95 347.72 L161.8 351.2 L163.41 351.35 L164.15 354.86 L165.82 356.22 L167.01 359.52 L168.65 361.05 L169.33 364.51 L171.1 365.29 L172.2 368.39 L172.98 370.03 L174.28 373.3 L175.34 374.23 L177.4 377.81 L179.58 377.49 L181.35 380.58 L183.67 380.22 L185.39 382.89 L188.03 382.77 L190.23 385.86 L191.4 385.11 L193.1 387.02 L195.28 385.86 L197.43 388.06 L199.84 386.95 L202.77 388.85 L204.99 387.3 L207.89 389.36 L209.86 386.86 L212.56 389.81 L215.23 387.48 L216.53 389.84 L217.74 387.77 L219.68 389.53 L220.49 388.19 L223.1 389.55 L224.26 388.59" fill="none" stroke="#3434a4" stroke-width="1.95" stroke-linejoin="round" stroke-linecap="round" />
<path d="M137.3 258 L137.73 260.61 L138.64 260.9 L139.28 263.99 L139.51 265.16 L140.37 268.49 L141.13 270.17 L141.78 273.58 L142.37 275.48 L143.47 279.51 L143.63 278.83 L144.11 282.01 L144.86 281.32 L145.24 284.52 L146.13 286.56 L146.65 289.07 L147.15 290.5 L147.83 293.74 L149.1 295.63 L149.74 299.54 L150.49 300.47 L151.14 304.75 L152.34 305.85 L152.93 309.57 L153.79 310.03 L154.34 314.39 L155.06 315.73 L156.34 319.24 L156.91 320.74 L157.83 323.35 L158.06 324.37 L158.67 327.09 L159.59 328.72 L160.03 331.35 L160.83 331.94 L161.11 334.45 L161.85 336.39 L162.85 339.72 L163.66 340.32 L164.32 343.75 L165.03 344.94 L165.96 348.34 L166.95 348.52 L167.85 352.05 L169.09 353.53 L169.51 357.42 L170.78 358.77 L171.51 361.38 L172.55 362.34 L173.89 365.54 L174.63 367.16 L175.78 371.19 L177.24 371.76 L178.05 374.3 L179.04 376.23 L180.83 378.49 L181.67 379.51 L183.42 382.75 L184.69 382.2 L186.37 386.12 L188.4 386.5 L190.45 389.37 L191.65 387.91 L194.09 390.3 L196.44 389.95 L198.98 393.22 L201.63 391.54 L203.53 394.65 L206.49 393.53 L208.87 395.34 L210.99 394.2 L213.64 396.12 L216.04 395.6 L217.92 398.62 L219.59 396.52 L220.53 397.91 L221.91 397.29 L223.68 400.47 L225.29 398.6 L227.63 401.55 L228.94 400.48" fill="none" stroke="#3434a4" stroke-width="1.95" stroke-linejoin="round" stroke-linecap="round" />
<path d="M140.1 258 L141.02 260.62 L141.08 260.94 L141.93 264.03 L142.27 264.95 L142.96 268.91 L144.04 269.4 L144.57 274.36 L145.28 274.64 L146.39 278.89 L146.67 279.21 L147.18 282.33 L147.17 281.91 L148.23 286.05 L148.85 286.96 L149.82 291.42 L150.08 292.07 L150.9 294.85 L151.81 296.69 L152.92 299.99 L153.18 300.81 L154.08 305.32 L155.08 306.69 L155.54 310.12 L156.98 311.28 L157.75 314.59 L158.45 316.55 L158.77 319.84 L159.56 319.91 L160.25 323.41 L161.24 325.37 L161.79 327.71 L162.57 329.13 L163.12 331.59 L163.35 332.26 L164.08 334.47 L165.08 336.24 L165.66 339.15 L166.01 340.49 L167.11 342.99 L167.32 343.92 L168.66 347.92 L169.42 349.19 L170.45 352.63 L171.23 353.69 L171.84 356.85 L172.94 358.05 L173.34 361.34 L174.21 362.19 L175.74 366.37 L176.64 367.72 L177.71 370.63 L179.16 372.53 L179.9 375.73 L181.28 377.14 L182.35 380.73 L183.73 380.8 L185.56 385.15 L186.95 385.84 L188.74 388.16 L190.7 388.03 L192.39 390.76 L194.65 391.28 L196.98 393.67 L199.17 392.4 L201.45 394.6 L203.75 393.76 L206.47 395.92 L208.72 394.93 L211.36 397.1 L213.52 397.03 L216.29 397.88 L219.01 397.45 L220.81 399.24 L223.68 399.34 L224.82 401.17 L225.75 399.65 L228.7 401.73 L230.3 401.7 L231.32 403.76" fill="none" stroke="#3434a4" stroke-width="1.95" stroke-linejoin="round" stroke-linecap="round" />
<path d="M142.8 258 L143.47 259.98 L143.82 260.92 L144.43 263.33 L144.76 264.49 L145.11 267.71 L145.76 269.53 L146.5 273.17 L147.28 273.98 L147.42 276.97 L148.04 277.34 L148.46 279.63 L148.6 280.01 L149.11 282.93 L149.37 282.93 L150.26 286.1 L150.74 285.76 L150.74 288.18 L151.62 289.43 L152.61 293.12 L153.15 294.5 L153.55 297.43 L154.82 298.9 L155.53 302.8 L156.59 304.45 L157.03 307.58 L158.19 308.33 L158.83 312.75 L159.55 313.62 L160.62 317.08 L161.33 317.64 L162.27 321.36 L163.11 322.43 L163.86 326.02 L164.64 326.2 L165.52 330.68 L166.05 330.49 L166.43 333.53 L166.79 333.26 L167.49 337.21 L168.63 338.33 L169.24 341.7 L169.55 342.73 L170.88 345.4 L171.68 346.02 L172.17 350.8 L173.44 351.02 L174.1 354.74 L174.65 356.32 L175.83 359.88 L176.27 360.79 L177.6 363.91 L178.65 364.82 L179.29 368 L180.26 369.47 L181.55 372.56 L182.49 373.48 L183.47 377.63 L184.72 377.37 L186.27 380.83 L188.09 381.68 L189.88 384.51 L192.24 384.92 L194 387.39 L196.94 387.16 L197.73 388.87 L200.03 388.46 L202.09 389.88 L204.64 389.53 L206.89 392.02 L209.61 390.09 L211.98 392.53 L214.49 392.06 L217.19 394.02 L218.81 392.95 L221.49 395.38 L223.65 394.33 L225.39 396.62 L226.3 395.06" fill="none" stroke="#3434a4" stroke-width="1.95" stroke-linejoin="round" stroke-linecap="round" />
</svg>
<rect x="42.8" y="260.2" width="237.2" height="152.6" fill="none" stroke="#000" stroke-width="1.3"/>
<line x1="39.4" y1="260.2" x2="42.8" y2="260.2" stroke="#000" stroke-width="1.1" />
<line x1="39.4" y1="323.5" x2="42.8" y2="323.5" stroke="#000" stroke-width="1.1" />
<line x1="39.4" y1="386.8" x2="42.8" y2="386.8" stroke="#000" stroke-width="1.1" />
<line x1="40.6" y1="291.85" x2="42.8" y2="291.85" stroke="#000" stroke-width="1.1" />
<line x1="40.6" y1="355.15" x2="42.8" y2="355.15" stroke="#000" stroke-width="1.1" />
<line x1="54.5" y1="412.8" x2="54.5" y2="416.2" stroke="#000" stroke-width="1.1" />
<line x1="110.9" y1="412.8" x2="110.9" y2="416.2" stroke="#000" stroke-width="1.1" />
<line x1="167.3" y1="412.8" x2="167.3" y2="416.2" stroke="#000" stroke-width="1.1" />
<line x1="223.7" y1="412.8" x2="223.7" y2="416.2" stroke="#000" stroke-width="1.1" />
<line x1="280.1" y1="412.8" x2="280.1" y2="416.2" stroke="#000" stroke-width="1.1" />
<line x1="82.7" y1="412.8" x2="82.7" y2="415" stroke="#000" stroke-width="1.1" />
<line x1="139.1" y1="412.8" x2="139.1" y2="415" stroke="#000" stroke-width="1.1" />
<line x1="195.5" y1="412.8" x2="195.5" y2="415" stroke="#000" stroke-width="1.1" />
<line x1="251.9" y1="412.8" x2="251.9" y2="415" stroke="#000" stroke-width="1.1" />
<text x="35.8" y="264.3" font-size="11.5" text-anchor="end" >1</text>
<text x="35.8" y="327.6" font-size="11.5" text-anchor="end" >0.5</text>
<text x="35.8" y="390.9" font-size="11.5" text-anchor="end" >0</text>
<text x="54.5" y="429.9" font-size="11.5" text-anchor="middle" >0</text>
<text x="110.9" y="429.9" font-size="11.5" text-anchor="middle" >1</text>
<text x="167.3" y="429.9" font-size="11.5" text-anchor="middle" >2</text>
<text x="223.7" y="429.9" font-size="11.5" text-anchor="middle" >3</text>
<text x="280.1" y="429.9" font-size="11.5" text-anchor="middle" >4</text>
<text x="159" y="450.2" font-size="12.2" text-anchor="middle" class="l" ><tspan font-style="italic">Z</tspan> (mm)</text>
<text class="l" x="10.2" y="336" font-size="12.2" text-anchor="middle" transform="rotate(-90 10.2 336)"><tspan font-style="italic">F</tspan> (nN)</text>
<path d="M228.2 289.9 L272.7 284.1 L272.7 285.9 L228.2 291.7 Z" fill="#111" stroke="#000" stroke-width="1" stroke-linejoin="round"/>
<path d="M218.7 275.3 L261 271 L272.7 284.1 L228.2 289.9 Z" fill="url(#chipg)" stroke="#000" stroke-width="1.2" stroke-linejoin="round"/>
<path d="M183.6 287.4 L219.6 281 L223.8 285.6 Z" fill="#000" stroke="#000" stroke-width="0.9" stroke-linejoin="round"/>
<path d="M207.22 284.86 L220.58 282.07 L222.82 284.53 Z" fill="#fff"/>
<path d="M185.8 288.4 L196.6 288.4 L191.5 300.9 Z" fill="url(#tipg)" stroke="#000" stroke-width="1"/>
<text x="232.8" y="305" font-size="12" text-anchor="middle" ><tspan font-style="italic">T</tspan> = 25 °C,</text>
<text x="232.8" y="319.6" font-size="12" text-anchor="middle" ><tspan font-style="italic">v</tspan> = 6 µm s<tspan dy="-4.5" font-size="8.5">−1</tspan></text>
<text x="236.6" y="338" font-size="12" text-anchor="middle" ><tspan font-style="italic">T</tspan> = 37 °C,</text>
<text x="239.5" y="352.6" font-size="12" text-anchor="middle" ><tspan font-style="italic">v</tspan> = 2 µm s<tspan dy="-4.5" font-size="8.5">−1</tspan></text>
<line x1="195.7" y1="321.6" x2="177.26" y2="331.71" stroke="#000" stroke-width="1.5" />
<path d="M172 334.6 L176.55 328.34 L179.72 334.13 Z" fill="#000"/>
<line x1="235.9" y1="358.1" x2="222.3" y2="373.33" stroke="#000" stroke-width="1.5" />
<path d="M218.3 377.8 L220.5 370.38 L225.42 374.78 Z" fill="#000"/>
<text x="307" y="245.5" font-size="19.5" text-anchor="start" class="pl" font-weight="bold">e</text>
<svg x="329.5" y="258.5" width="351.5" height="154.3" viewBox="329.5 258.5 351.5 154.3" overflow="hidden">
<rect x="330" y="313.81" width="14.6" height="99" fill="url(#hrB)" stroke="#cf1f2e" stroke-width="1" />
<rect x="350.66" y="321.42" width="14.6" height="91.38" fill="url(#hrB)" stroke="#cf1f2e" stroke-width="1" />
<rect x="371.32" y="306.19" width="14.6" height="106.61" fill="url(#hrB)" stroke="#cf1f2e" stroke-width="1" />
<rect x="391.98" y="298.57" width="14.6" height="114.23" fill="url(#hrB)" stroke="#cf1f2e" stroke-width="1" />
<rect x="412.64" y="313.81" width="14.6" height="99" fill="url(#hrB)" stroke="#cf1f2e" stroke-width="1" />
<rect x="433.3" y="367.11" width="14.6" height="45.69" fill="url(#hrB)" stroke="#cf1f2e" stroke-width="1" />
<rect x="453.96" y="359.5" width="14.6" height="53.31" fill="url(#hrB)" stroke="#cf1f2e" stroke-width="1" />
<rect x="474.62" y="397.57" width="14.6" height="15.23" fill="url(#hrB)" stroke="#cf1f2e" stroke-width="1" />
<rect x="495.28" y="405.19" width="14.6" height="7.62" fill="url(#hrB)" stroke="#cf1f2e" stroke-width="1" />
<rect x="536.6" y="389.96" width="14.6" height="22.84" fill="url(#hrB)" stroke="#cf1f2e" stroke-width="1" />
<rect x="557.26" y="397.57" width="14.6" height="15.23" fill="url(#hrB)" stroke="#cf1f2e" stroke-width="1" />
<rect x="598.58" y="405.19" width="14.6" height="7.62" fill="url(#hrB)" stroke="#cf1f2e" stroke-width="1" />
<rect x="338.6" y="405.19" width="11.8" height="7.62" fill="url(#hbF)" stroke="#2e2e96" stroke-width="1" fill-opacity="0.9"/>
<rect x="359.26" y="405.19" width="11.8" height="7.62" fill="url(#hbF)" stroke="#2e2e96" stroke-width="1" fill-opacity="0.9"/>
<rect x="379.92" y="367.11" width="11.8" height="45.69" fill="url(#hbF)" stroke="#2e2e96" stroke-width="1" fill-opacity="0.9"/>
<rect x="400.58" y="351.88" width="11.8" height="60.92" fill="url(#hbF)" stroke="#2e2e96" stroke-width="1" fill-opacity="0.9"/>
<rect x="421.24" y="298.57" width="11.8" height="114.23" fill="url(#hbF)" stroke="#2e2e96" stroke-width="1" fill-opacity="0.9"/>
<rect x="441.9" y="359.5" width="11.8" height="53.31" fill="url(#hbF)" stroke="#2e2e96" stroke-width="1" fill-opacity="0.9"/>
<rect x="462.56" y="336.65" width="11.8" height="76.15" fill="url(#hbF)" stroke="#2e2e96" stroke-width="1" fill-opacity="0.9"/>
<rect x="483.22" y="389.96" width="11.8" height="22.84" fill="url(#hbF)" stroke="#2e2e96" stroke-width="1" fill-opacity="0.9"/>
<rect x="503.88" y="351.88" width="11.8" height="60.92" fill="url(#hbF)" stroke="#2e2e96" stroke-width="1" fill-opacity="0.9"/>
<rect x="524.54" y="389.96" width="11.8" height="22.84" fill="url(#hbF)" stroke="#2e2e96" stroke-width="1" fill-opacity="0.9"/>
<rect x="545.2" y="405.19" width="11.8" height="7.62" fill="url(#hbF)" stroke="#2e2e96" stroke-width="1" fill-opacity="0.9"/>
<rect x="565.86" y="367.11" width="11.8" height="45.69" fill="url(#hbF)" stroke="#2e2e96" stroke-width="1" fill-opacity="0.9"/>
<rect x="586.52" y="405.19" width="11.8" height="7.62" fill="url(#hbF)" stroke="#2e2e96" stroke-width="1" fill-opacity="0.9"/>
<rect x="607.18" y="382.34" width="11.8" height="30.46" fill="url(#hbF)" stroke="#2e2e96" stroke-width="1" fill-opacity="0.9"/>
<rect x="648.5" y="405.19" width="11.8" height="7.62" fill="url(#hbF)" stroke="#2e2e96" stroke-width="1" fill-opacity="0.9"/>
<rect x="669.16" y="405.19" width="11.8" height="7.62" fill="url(#hbF)" stroke="#2e2e96" stroke-width="1" fill-opacity="0.9"/>
<path d="M330.5 396 L330.65 395.34 L330.82 394.56 L331.01 393.66 L331.22 392.67 L331.45 391.58 L331.7 390.42 L331.96 389.19 L332.23 387.9 L332.52 386.58 L332.81 385.22 L333.12 383.84 L333.44 382.45 L333.76 381.07 L334.09 379.7 L334.43 378.36 L334.77 377.06 L335.11 375.81 L335.46 374.62 L335.8 373.5 L336.22 372.24 L336.65 371 L337.11 369.8 L337.57 368.61 L338.05 367.45 L338.54 366.3 L339.03 365.17 L339.54 364.04 L340.05 362.93 L340.56 361.82 L341.07 360.71 L341.58 359.6 L342.1 358.49 L342.6 357.37 L343.11 356.24 L343.6 355.1 L344.09 353.94 L344.58 352.75 L345.08 351.54 L345.57 350.31 L346.06 349.08 L346.56 347.85 L347.05 346.62 L347.54 345.41 L348.04 344.2 L348.53 343.02 L349.03 341.87 L349.52 340.74 L350.02 339.66 L350.51 338.62 L351.01 337.63 L351.5 336.7 L352.29 335.32 L353.08 334.07 L353.87 332.93 L354.66 331.87 L355.45 330.87 L356.24 329.93 L357.03 329.01 L357.82 328.09 L358.61 327.16 L359.4 326.2 L360.18 325.25 L360.96 324.36 L361.73 323.51 L362.5 322.68 L363.27 321.85 L364.05 321 L364.83 320.11 L365.64 319.16 L366.46 318.13 L367.3 317 L367.91 316.12 L368.52 315.17 L369.14 314.17 L369.76 313.13 L370.38 312.05 L371.02 310.95 L371.66 309.83 L372.31 308.71 L372.97 307.6 L373.64 306.51 L374.33 305.44 L375.04 304.41 L375.76 303.43 L376.5 302.5 L377.31 301.55 L378.13 300.64 L378.96 299.75 L379.81 298.89 L380.67 298.05 L381.54 297.23 L382.44 296.44 L383.35 295.66 L384.29 294.9 L385.25 294.16 L386.24 293.43 L387.25 292.71 L388.3 292 L389.31 291.35 L390.35 290.71 L391.42 290.08 L392.53 289.46 L393.65 288.86 L394.8 288.27 L395.96 287.69 L397.13 287.14 L398.3 286.59 L399.48 286.07 L400.65 285.57 L401.81 285.09 L402.97 284.63 L404.1 284.2 L405.31 283.77 L406.52 283.37 L407.73 283.02 L408.93 282.69 L410.14 282.38 L411.35 282.09 L412.55 281.82 L413.76 281.56 L414.97 281.3 L416.17 281.04 L417.38 280.77 L418.59 280.49 L419.8 280.2 L421.02 279.89 L422.25 279.58 L423.49 279.27 L424.74 278.95 L425.99 278.64 L427.24 278.32 L428.48 278.01 L429.72 277.71 L430.93 277.41 L432.14 277.12 L433.32 276.83 L434.47 276.56 L435.6 276.3 L436.87 276 L438.07 275.7 L439.22 275.41 L440.34 275.12 L441.44 274.85 L442.54 274.59 L443.66 274.35 L444.82 274.12 L446.03 273.92 L447.32 273.75 L448.7 273.6 L449.78 273.52 L450.9 273.46 L452.06 273.41 L453.26 273.39 L454.49 273.38 L455.74 273.38 L457.01 273.39 L458.29 273.41 L459.58 273.42 L460.87 273.44 L462.15 273.45 L463.42 273.46 L464.67 273.45 L465.9 273.43 L467.1 273.4 L468.4 273.35 L469.76 273.28 L471.16 273.2 L472.58 273.12 L474 273.03 L475.42 272.93 L476.8 272.84 L478.14 272.74 L479.41 272.65 L480.6 272.56 L481.69 272.48 L482.67 272.41 L483.51 272.35 L484.2 272.3" fill="none" stroke="#d8283a" stroke-width="1.7" stroke-dasharray="5.5 3.5"/>
</svg>
<rect x="452" y="300.3" width="23.5" height="14" fill="url(#hrB)" stroke="#cf1f2e" stroke-width="1"/>
<rect x="452.5" y="317.8" width="23" height="14" fill="url(#hbF)" stroke="#2e2e96" stroke-width="1"/>
<svg x="329.5" y="260.5" width="351.5" height="152.3" viewBox="329.5 260.5 351.5 152.3" overflow="hidden">
<path d="M352 404 L352.07 403.73 L352.39 403.13 L354.2 401.1 L354.74 400.55 L355.35 399.92 L356.03 399.24 L356.78 398.51 L357.58 397.72 L358.43 396.89 L359.32 396.01 L360.25 395.11 L361.2 394.17 L362.17 393.21 L363.16 392.23 L364.16 391.24 L365.16 390.24 L366.15 389.23 L367.12 388.23 L368.08 387.24 L369.01 386.26 L369.9 385.3 L370.69 384.44 L371.49 383.55 L372.29 382.66 L373.1 381.74 L373.91 380.82 L374.72 379.89 L375.53 378.94 L376.34 378 L377.15 377.05 L377.96 376.09 L378.77 375.14 L379.57 374.19 L380.37 373.24 L381.16 372.3 L381.94 371.37 L382.71 370.45 L383.48 369.54 L384.23 368.64 L384.97 367.76 L385.7 366.9 L386.54 365.9 L387.36 364.91 L388.17 363.92 L388.97 362.94 L389.75 361.97 L390.52 361.01 L391.28 360.05 L392.04 359.11 L392.79 358.18 L393.53 357.26 L394.28 356.35 L395.02 355.46 L395.77 354.58 L396.52 353.71 L397.27 352.86 L398.03 352.02 L398.8 351.2 L399.74 350.23 L400.68 349.28 L401.62 348.35 L402.57 347.44 L403.51 346.56 L404.46 345.69 L405.4 344.84 L406.34 344.01 L407.29 343.19 L408.23 342.39 L409.18 341.6 L410.12 340.83 L411.06 340.06 L412 339.3 L413.01 338.5 L414.02 337.72 L415.03 336.96 L416.04 336.21 L417.05 335.49 L418.05 334.78 L419.06 334.08 L420.07 333.39 L421.07 332.72 L422.08 332.05 L423.09 331.39 L424.09 330.74 L425.1 330.1 L426.19 329.42 L427.28 328.76 L428.37 328.12 L429.46 327.5 L430.55 326.89 L431.64 326.29 L432.73 325.69 L433.83 325.09 L434.92 324.48 L436.01 323.87 L437.1 323.24 L438.2 322.6 L439.3 321.94 L440.4 321.26 L441.5 320.56 L442.6 319.86 L443.7 319.15 L444.8 318.44 L445.9 317.74 L447 317.04 L448.1 316.35 L449.2 315.68 L450.3 315.03 L451.4 314.4 L452.5 313.79 L453.59 313.21 L454.68 312.64 L455.77 312.08 L456.87 311.54 L457.96 311 L459.05 310.47 L460.14 309.94 L461.23 309.41 L462.32 308.88 L463.41 308.34 L464.5 307.8 L465.59 307.25 L466.68 306.7 L467.77 306.15 L468.86 305.6 L469.95 305.04 L471.04 304.49 L472.13 303.94 L473.23 303.39 L474.32 302.84 L475.41 302.29 L476.5 301.75 L477.6 301.2 L478.71 300.65 L479.84 300.08 L480.99 299.51 L482.14 298.94 L483.3 298.37 L484.44 297.8 L485.58 297.24 L486.69 296.69 L487.78 296.16 L488.83 295.65 L489.84 295.16 L490.8 294.7 L492.14 294.06 L493.36 293.46 L494.51 292.91 L495.6 292.39 L496.67 291.89 L497.74 291.42 L498.84 290.96 L500 290.5 L501.12 290.08 L502.12 289.72 L503.08 289.38 L504.08 289.06 L505.2 288.73 L506.5 288.35 L508.08 287.92 L510 287.4 L510.88 287.16 L511.83 286.9 L512.83 286.63 L513.89 286.34 L515 286.03 L516.15 285.72 L517.34 285.39 L518.56 285.06 L519.81 284.73 L521.08 284.39 L522.37 284.06 L523.67 283.72 L524.98 283.39 L526.29 283.07 L527.6 282.76 L528.9 282.45 L530.18 282.17 L531.45 281.89 L532.69 281.64 L533.9 281.4 L535.09 281.18 L536.28 280.97 L537.46 280.77 L538.63 280.58 L539.8 280.4 L540.97 280.23 L542.14 280.07 L543.31 279.91 L544.48 279.76 L545.66 279.62 L546.83 279.48 L548.02 279.35 L549.21 279.22 L550.4 279.1 L551.61 278.97 L552.82 278.86 L554.05 278.74 L555.28 278.63 L556.54 278.51 L557.8 278.4 L558.96 278.3 L560.13 278.21 L561.3 278.12 L562.48 278.04 L563.67 277.96 L564.86 277.88 L566.06 277.81 L567.27 277.74 L568.48 277.68 L569.7 277.62 L570.92 277.56 L572.16 277.5 L573.39 277.44 L574.64 277.38 L575.89 277.33 L577.14 277.27 L578.4 277.21 L579.67 277.15 L580.95 277.09 L582.22 277.03 L583.51 276.97 L584.8 276.9 L585.98 276.84 L587.16 276.78 L588.34 276.72 L589.51 276.66 L590.69 276.6 L591.86 276.54 L593.04 276.48 L594.22 276.42 L595.4 276.36 L596.6 276.31 L597.8 276.25 L599.01 276.19 L600.23 276.13 L601.46 276.07 L602.7 276.01 L603.96 275.94 L605.23 275.88 L606.52 275.82 L607.83 275.75 L609.16 275.68 L610.51 275.62 L611.88 275.55 L613.28 275.47 L614.7 275.4 L615.8 275.34 L616.96 275.28 L618.16 275.22 L619.4 275.15 L620.68 275.08 L621.99 275.01 L623.34 274.94 L624.7 274.87 L626.09 274.79 L627.5 274.72 L628.91 274.64 L630.34 274.56 L631.76 274.49 L633.19 274.41 L634.61 274.33 L636.02 274.26 L637.41 274.18 L638.79 274.11 L640.14 274.03 L641.47 273.96 L642.76 273.89 L644.01 273.82 L645.23 273.76 L646.4 273.69 L647.52 273.63 L648.59 273.57 L649.59 273.52 L650.54 273.47 L651.41 273.42 L652.22 273.37 L652.95 273.34 L653.6 273.3" fill="none" stroke="#3434a4" stroke-width="1.7" stroke-dasharray="5.5 3.5"/>
</svg>
<rect x="329.5" y="260.5" width="351.5" height="152.3" fill="none" stroke="#000" stroke-width="1.3"/>
<line x1="326.1" y1="412.8" x2="329.5" y2="412.8" stroke="#000" stroke-width="1.1" />
<line x1="326.1" y1="336.65" x2="329.5" y2="336.65" stroke="#000" stroke-width="1.1" />
<line x1="326.1" y1="260.5" x2="329.5" y2="260.5" stroke="#000" stroke-width="1.1" />
<line x1="327.3" y1="374.73" x2="329.5" y2="374.73" stroke="#000" stroke-width="1.1" />
<line x1="327.3" y1="298.57" x2="329.5" y2="298.57" stroke="#000" stroke-width="1.1" />
<line x1="674.2" y1="374.73" x2="677.6" y2="374.73" stroke="#000" stroke-width="1.1" />
<line x1="674.2" y1="336.65" x2="677.6" y2="336.65" stroke="#000" stroke-width="1.1" />
<line x1="674.2" y1="298.57" x2="677.6" y2="298.57" stroke="#000" stroke-width="1.1" />
<line x1="329.5" y1="412.8" x2="329.5" y2="416.2" stroke="#000" stroke-width="1.1" />
<line x1="355.32" y1="260.5" x2="355.32" y2="262.9" stroke="#000" stroke-width="1.1" />
<line x1="355.32" y1="412.8" x2="355.32" y2="415" stroke="#000" stroke-width="1.1" />
<line x1="381.15" y1="260.5" x2="381.15" y2="263.9" stroke="#000" stroke-width="1.1" />
<line x1="381.15" y1="412.8" x2="381.15" y2="416.2" stroke="#000" stroke-width="1.1" />
<line x1="406.98" y1="260.5" x2="406.98" y2="262.9" stroke="#000" stroke-width="1.1" />
<line x1="406.98" y1="412.8" x2="406.98" y2="415" stroke="#000" stroke-width="1.1" />
<line x1="432.8" y1="260.5" x2="432.8" y2="263.9" stroke="#000" stroke-width="1.1" />
<line x1="432.8" y1="412.8" x2="432.8" y2="416.2" stroke="#000" stroke-width="1.1" />
<line x1="458.62" y1="260.5" x2="458.62" y2="262.9" stroke="#000" stroke-width="1.1" />
<line x1="458.62" y1="412.8" x2="458.62" y2="415" stroke="#000" stroke-width="1.1" />
<line x1="484.45" y1="260.5" x2="484.45" y2="263.9" stroke="#000" stroke-width="1.1" />
<line x1="484.45" y1="412.8" x2="484.45" y2="416.2" stroke="#000" stroke-width="1.1" />
<line x1="510.27" y1="260.5" x2="510.27" y2="262.9" stroke="#000" stroke-width="1.1" />
<line x1="510.27" y1="412.8" x2="510.27" y2="415" stroke="#000" stroke-width="1.1" />
<line x1="536.1" y1="260.5" x2="536.1" y2="263.9" stroke="#000" stroke-width="1.1" />
<line x1="536.1" y1="412.8" x2="536.1" y2="416.2" stroke="#000" stroke-width="1.1" />
<line x1="561.92" y1="260.5" x2="561.92" y2="262.9" stroke="#000" stroke-width="1.1" />
<line x1="561.92" y1="412.8" x2="561.92" y2="415" stroke="#000" stroke-width="1.1" />
<line x1="587.75" y1="260.5" x2="587.75" y2="263.9" stroke="#000" stroke-width="1.1" />
<line x1="587.75" y1="412.8" x2="587.75" y2="416.2" stroke="#000" stroke-width="1.1" />
<line x1="613.58" y1="260.5" x2="613.58" y2="262.9" stroke="#000" stroke-width="1.1" />
<line x1="613.58" y1="412.8" x2="613.58" y2="415" stroke="#000" stroke-width="1.1" />
<line x1="639.4" y1="260.5" x2="639.4" y2="263.9" stroke="#000" stroke-width="1.1" />
<line x1="639.4" y1="412.8" x2="639.4" y2="416.2" stroke="#000" stroke-width="1.1" />
<line x1="665.23" y1="260.5" x2="665.23" y2="262.9" stroke="#000" stroke-width="1.1" />
<line x1="665.23" y1="412.8" x2="665.23" y2="415" stroke="#000" stroke-width="1.1" />
<text x="322.8" y="416.9" font-size="11.5" text-anchor="end" >0</text>
<text x="322.8" y="340.75" font-size="11.5" text-anchor="end" >10</text>
<text x="322.8" y="264.6" font-size="11.5" text-anchor="end" >20</text>
<text x="329.5" y="429.9" font-size="11.5" text-anchor="middle" >0</text>
<text x="381.15" y="429.9" font-size="11.5" text-anchor="middle" >5</text>
<text x="432.8" y="429.9" font-size="11.5" text-anchor="middle" >10</text>
<text x="484.45" y="429.9" font-size="11.5" text-anchor="middle" >15</text>
<text x="536.1" y="429.9" font-size="11.5" text-anchor="middle" >20</text>
<text x="587.75" y="429.9" font-size="11.5" text-anchor="middle" >25</text>
<text x="639.4" y="429.9" font-size="11.5" text-anchor="middle" >30</text>
<text x="479.4" y="310.9" font-size="12" text-anchor="start" >Lower force, <tspan font-style="italic">T</tspan> = 37 °C, <tspan font-style="italic">v</tspan> = 2 µm s<tspan dy="-4.5" font-size="8.5">−1</tspan></text>
<text x="479.4" y="329.2" font-size="12" text-anchor="start" >Higher force, <tspan font-style="italic">T</tspan> = 25 °C, <tspan font-style="italic">v</tspan> = 6 µm s<tspan dy="-4.5" font-size="8.5">−1</tspan></text>
<text x="631.9" y="360.6" font-size="12.2" text-anchor="middle" class="l" >Sneddon</text>
<text x="632.6" y="374.8" font-size="12.2" text-anchor="middle" class="l" >model</text>
<text x="504.6" y="450.3" font-size="12.2" text-anchor="middle" class="l" >Elastic modulus (kPa)</text>
<line x1="393.4" y1="430.2" x2="371.78" y2="435.93" stroke="#000" stroke-width="1.8" />
<path d="M365.5 437.6 L371.83 432.2 L373.67 439.16 Z" fill="#000"/>
<text x="0" y="492.8" font-size="19.5" text-anchor="start" class="pl" font-weight="bold">f</text>
<line x1="43" y1="626.5" x2="145" y2="626.5" stroke="#000" stroke-width="1.6" />
<path d="M132 624.56 L133 624.9 L134 624.67 L135 624.76 L136 624.68 L137 625.15 L138 625.03 L139 624.92 L140 624.63 L141 625.4 L142 624.73 L143 624.88 L144 624.74 L145 625.08 L146 625.41 L147 624.87 L148 625.3 L149 624.58 L150 625.33 L151 624.75 L152 625.21 L153 625.13 L154 624.59 L155 624.85 L156 625.13 L157 625.42 L158 625.44 L159 624.83 L160 625.11 L161 625.16 L162 624.72 L163 625.09 L164 624.64 L165 625.37 L166 625.44 L167 624.96 L168 624.95 L169 625.06 L170 624.64 L171 624.66 L172 624.85 L173 625.32 L174 625 L175 624.8 L176 625.1 L177 624.58 L178 624.67 L179 625.17 L180 625.24 L181 625.24 L182 624.86 L183 624.89 L184 624.71 L185 624.66 L186 624.59 L187 624.74 L188 625.29 L189 624.72 L190 625.18 L191 625.32 L192 625.02 L193 624.97 L194 624.97 L195 624.66 L196 625.22 L197 625.17 L198 624.7 L199 624.66 L200 624.68 L201 624.83 L202 625.19 L203 624.77 L204 625.21 L205 624.58 L206 625.36 L207 624.73 L208 624.88 L209 625.29 L210 624.73 L211 624.86 L212 624.88 L213 624.61 L214 625.11 L215 625 L216 624.8 L217 624.58 L218 624.82 L219 624.56 L220 624.89 L221 624.82 L222 625.07 L223 625.25 L224 625.09 L225 625.04 L226 624.64 L227 624.72 L228 625.04 L229 625.16 L230 625.32 L231 624.9 L232 625.05 L233 624.92 L234 624.77 L235 624.59 L236 625.17 L237 625.43 L238 624.61 L239 624.99 L240 624.68 L241 624.83 L242 624.92 L243 624.95 L244 624.57 L245 624.95 L246 624.98 L247 625.36 L248 625.2 L249 624.7 L250 625.32 L251 625.06 L252 624.84 L253 624.93 L254 625.17 L255 624.58 L256 624.96 L257 625.28 L258 625.37 L259 625.37 L260 625.05 L261 624.96 L262 625.08 L263 625.33 L264 624.89 L265 624.86 L266 624.93 L267 624.8 L268 625.15 L269 624.72 L270 624.78 L271 624.7 L272 624.65 L273 624.79 L274 624.94 L275 624.64 L276 625.04 L277 624.87 L278 624.98 L279 625.09 L279 628.03 L278 627.81 L277 628.37 L276 628.19 L275 628.47 L274 627.82 L273 628.45 L272 628.46 L271 628.43 L270 628.57 L269 627.95 L268 628.06 L267 628.15 L266 628.03 L265 628.61 L264 627.96 L263 627.86 L262 628.53 L261 627.87 L260 628.46 L259 628.14 L258 628.41 L257 628.41 L256 628.11 L255 628.41 L254 628.5 L253 628.6 L252 628.1 L251 628.57 L250 627.8 L249 627.83 L248 628.05 L247 628.49 L246 628.37 L245 628.18 L244 628.47 L243 627.88 L242 628.23 L241 627.79 L240 627.79 L239 628.65 L238 627.97 L237 628.47 L236 628.04 L235 628.61 L234 628.39 L233 628.49 L232 627.95 L231 628.36 L230 628.03 L229 628.22 L228 628.6 L227 628.09 L226 628.27 L225 628.04 L224 628.51 L223 627.96 L222 628.11 L221 628.57 L220 628.43 L219 627.75 L218 628.18 L217 628.18 L216 627.91 L215 628.59 L214 628.18 L213 627.97 L212 628.44 L211 628.38 L210 627.94 L209 628.1 L208 628.11 L207 628.48 L206 627.98 L205 628.3 L204 628.49 L203 628.45 L202 628.24 L201 628.13 L200 628.09 L199 628.13 L198 628.52 L197 628.27 L196 628.6 L195 628.45 L194 627.87 L193 628.4 L192 628.4 L191 628.11 L190 628.22 L189 628.16 L188 628.02 L187 627.92 L186 628.3 L185 628.53 L184 627.79 L183 628 L182 627.76 L181 628.64 L180 627.98 L179 628.63 L178 628.4 L177 627.85 L176 628.32 L175 628.09 L174 628.46 L173 628.18 L172 628.39 L171 627.92 L170 628.63 L169 627.86 L168 628.46 L167 628.47 L166 627.93 L165 628.33 L164 628.11 L163 628.38 L162 628.58 L161 627.83 L160 628.24 L159 627.91 L158 628.46 L157 628.63 L156 628.5 L155 628.11 L154 628.05 L153 627.95 L152 627.92 L151 628.47 L150 628.34 L149 628.41 L148 628.64 L147 627.93 L146 628.5 L145 628.24 L144 627.95 L143 628.61 L142 628.05 L141 628.11 L140 627.77 L139 628.65 L138 628.15 L137 627.87 L136 628.42 L135 628.43 L134 627.85 L133 628.37 L132 627.85 Z" fill="#dc2330"/>
<path d="M50.5 495.3 L50.36 497.56 L50.61 500.31 L50.82 501.63 L51.47 503.95 L52.28 506.38 L53.19 508.71 L53.73 510.88 L54.63 513.07 L55.34 515.6 L56.01 518.09 L57.01 520.48 L58.37 522.28 L59.51 524.89 L60.54 527.24 L61.77 529.87 L63.06 532.28 L63.81 534.18 L65 536.75 L65.83 539.35 L67.05 541.39 L67.78 543.91 L68.95 546.27 L70.14 548.56 L71.13 550.77 L72.45 553.41 L73.59 555.65 L74.85 558.02 L76.16 559.96 L77.24 562.01 L78.5 564.71 L80.13 566.95 L81.12 569.1 L82.42 571.52 L83.93 573.75 L85.23 575.84 L86.63 578.38 L87.69 580.23 L89.15 582.52 L90.31 584.48 L91.78 586.38 L92.8 588.51 L94.44 590.8 L96.09 592.8 L97.74 594.64 L99.49 596.34 L101.13 597.93 L102.89 599.73 L104.94 601.43 L106.63 603.56 L108.45 605.24 L110.34 607.3 L112.16 609.4 L113.97 611.01 L115.59 612.75 L117.37 614.81 L118.92 615.92 L120.93 618.29 L123.01 619.61 L125.05 620.81 L127.45 622.62 L129.59 623.67 L132.13 624.53 L134.44 625.63 L136.91 625.86 L139.24 626.58 L140.93 626.66 L142.57 626.39 L145.15 626.46 L146.11 626.71" fill="none" stroke="#dc2330" stroke-width="2.3" stroke-linejoin="round" stroke-linecap="round" />
<path d="M50.5 495.3 L50.4 497.14 L50.66 500.3 L50.94 501.45 L51.37 503.62 L52.12 506.28 L52.97 508.57 L54.03 511.12 L54.6 513.33 L55.6 515.23 L56.54 518.04 L57.39 519.95 L58.64 522.05 L59.45 523.98 L60.91 526.43 L62.09 528.74 L63.16 531.18 L64.13 533.16 L65.34 535.55 L66.39 537.95 L67.38 540.05 L68.24 542.55 L69.22 544.74 L70.45 547.28 L71.86 549.74 L72.98 551.96 L74.15 554.65 L75.5 556.67 L76.65 559.08 L77.97 561.1 L79.59 563.46 L80.79 565.74 L82.23 568.06 L83.32 569.86 L84.7 572.3 L86.02 575.01 L87.6 576.89 L88.84 579.12 L90.23 581.32 L91.29 583.32 L92.68 585.38 L93.98 587.71 L95.37 589.34 L97.21 591.58 L98.51 593.22 L100.13 595.39 L102.08 597.14 L103.62 598.96 L105.74 600.82 L107.52 602.82 L108.98 604.56 L111.02 606.29 L112.67 608.22 L114.4 610.06 L116.32 612.49 L118.25 614.18 L119.86 616.01 L122 618.25 L123.73 619.69 L125.77 620.79 L128.05 622.48 L130.29 623.68 L132.43 624.6 L135.03 625.83 L138.14 626.4 L140.79 626.2 L142.55 626.79 L144.96 626.57 L145.84 626.76" fill="none" stroke="#dc2330" stroke-width="2" stroke-linejoin="round" stroke-linecap="round" />
<path d="M50.5 496 L50.89 497.69 L51.26 500.11 L51.58 501.19 L52.49 502.69 L53.07 504.64 L54.25 505.94 L54.93 507.98 L55.98 509.44 L57.04 511.09 L58.06 512.81 L58.94 514.3 L59.96 515.78 L60.83 517.11 L61.76 519.07 L62.93 520.1 L64.12 521.79 L65.15 523.44 L66.11 524.8 L67.33 526.43 L68.44 528.12 L69.61 529.75 L70.63 531.35 L71.67 532.84 L72.87 534.33 L73.7 535.73 L74.93 536.99 L75.96 538.81 L76.92 540.07 L78.21 541.87 L79.44 543.69 L80.48 545.19 L81.37 546.68 L82.43 547.87 L83.65 549.45 L84.63 551.09 L86.07 552.25 L87.01 554.25 L88.27 555.36 L89.42 556.95 L90.73 558.17 L91.65 559.47 L92.65 560.52 L94.1 561.61 L95.27 563.22 L96.71 564.75 L97.96 566.02 L99.19 567.73 L100.32 568.54 L101.7 569.95 L102.99 571.46 L104.47 573.13 L105.49 574.1 L106.91 575.54 L108.77 576.71 L110.06 577.79 L111.85 578.98 L113.42 579.87 L115.11 581.59 L116.41 582.51 L117.7 583.84 L119.36 585.06 L120.49 586.08 L122.13 587.63 L123.47 588.79 L124.96 590.04 L126.46 591.11 L128.16 592.48 L129.59 593.92 L130.93 595.29 L132.51 596.53 L133.92 597.71 L135.3 598.95 L136.52 600.31 L137.93 601.73 L139.59 602.88 L141.12 604.69 L142.87 605.78 L144.48 606.9 L145.95 608.37 L147.4 609.33 L148.81 610.76 L150.42 611.45 L151.96 612.89 L153.58 613.86 L155.32 615.02 L156.98 616 L158.3 616.42 L159.97 617.66 L161.7 618.76 L163.55 620 L164.91 621 L166.26 621.75 L167.56 622.31 L169.55 623.76 L171.2 624.35 L172.95 624.77 L175.03 625.25 L176.69 625.69 L178.59 626.1 L180.66 626.29 L182.55 626.59 L184.18 626.81 L186.06 626.62 L187.62 626.79 L188.96 626.7 L189.96 626.64" fill="none" stroke="#dc2330" stroke-width="2.2" stroke-linejoin="round" stroke-linecap="round" />
<path d="M50.5 496.07 L50.72 498.11 L51.17 499.94 L51.89 501.32 L52.6 503.16 L53.21 504.61 L54.11 506.06 L55.22 507.75 L56.21 509.7 L56.83 510.98 L57.91 512.84 L58.76 514.31 L59.81 516 L61 517.58 L61.73 519.13 L62.84 520.72 L63.96 522.37 L65.25 523.87 L66.31 525.4 L67.33 526.53 L68.58 528.25 L69.32 529.78 L70.55 531.2 L71.83 532.69 L72.9 534.51 L73.72 535.96 L74.91 537.38 L76.1 539.28 L77.27 540.97 L78.28 542.65 L79.43 544 L80.38 545.48 L81.58 547.28 L82.7 548.78 L83.52 550.07 L84.65 551.66 L85.93 553.08 L87.23 554.4 L88.34 556.02 L89.34 557.65 L90.58 558.88 L91.71 560.11 L93 561.42 L94.19 562.72 L95.33 564.15 L96.7 565.85 L98.06 567.17 L99.2 569.11 L100.28 570.34 L101.89 571.9 L103.14 573.2 L104.55 574.44 L105.74 576 L107.08 577.17 L107.88 578.29 L109.05 579.19 L110.95 580.48 L112.39 581.8 L113.48 582.36 L114.63 583.47 L116.07 584.74 L117.37 586.23 L118.72 587.55 L119.99 588.65 L121.67 590.05 L123.01 591.38 L124.68 592.95 L125.96 594.3 L127.81 596 L128.51 597.12 L129.95 598.18 L131.49 599.7 L132.71 601.12 L134.13 602.46 L135.74 603.71 L136.83 605.07 L138.57 606.48 L140.26 607.41 L141.75 609 L143.44 610.23 L144.87 611.56 L146.25 612.83 L147.93 613.89 L149.32 614.98 L150.97 615.9 L152.75 617.36 L154.18 617.92 L155.98 618.93 L157.39 620.18 L159.1 621.24 L160.76 622.31 L162.58 623.61 L163.95 624.63 L165.83 625.49 L166.84 626.05 L168.96 626.42 L170.73 626.42 L172.4 626.4 L174.49 626.35 L176.22 626.79 L178.06 626.31 L179.83 626.8 L181.72 626.35 L183.71 626.77 L185.36 626.38 L187.52 626.58 L189.14 626.35 L190.09 626.71" fill="none" stroke="#dc2330" stroke-width="2.2" stroke-linejoin="round" stroke-linecap="round" />
<path d="M50.5 496.14 L50.92 497.98 L51.43 499.92 L51.88 501.25 L52.6 503.05 L53.08 504.53 L54.13 505.95 L55 507.61 L55.88 509.4 L56.9 511.1 L58.01 512.72 L59 514.6 L60 516.23 L60.88 517.67 L61.98 519.16 L62.73 520.7 L63.98 522.13 L64.93 523.7 L66.26 525.62 L67.35 526.93 L68.23 528.23 L69.55 530.12 L70.57 531.47 L71.53 533.05 L72.62 534.87 L73.77 536.42 L74.9 538 L76.1 539.73 L76.97 541.44 L78.31 542.95 L79.25 544.62 L80.48 545.76 L81.54 547.7 L82.67 549.3 L83.7 550.71 L84.65 552.22 L85.77 553.71 L87.25 555.04 L88.11 556.26 L89.45 557.73 L90.83 559.61 L91.7 560.88 L92.7 562.18 L93.88 563.79 L95.44 565.17 L96.28 566.77 L97.46 567.92 L98.71 569.86 L99.85 571.28 L100.85 572.37 L102.4 573.99 L103.43 575.3 L104.75 576.93 L106.03 577.9 L107.48 579.27 L108.49 580.63 L109.62 581.27 L110.93 582.24 L111.98 583.41 L112.99 584.32 L114.1 585.4 L115.15 586.04 L116.52 587.67 L118.01 588.97 L119.23 591.02 L120.47 592.41 L122.14 593.82 L122.88 595 L123.98 595.89 L125.21 596.8 L126.03 597.71 L127.08 598.74 L128.24 600.25 L129.04 601.19 L130.67 602.64 L131.85 603.86 L133.37 605.26 L134.85 606.89 L136.2 607.75 L137.37 609.4 L139.14 610.56 L140.59 612.18 L142.35 612.99 L143.66 614.67 L145.32 615.56 L147.04 616.87 L148.27 618.1 L149.93 619.39 L151.62 620.15 L153.11 621.69 L154.73 622.7 L156.48 623.63 L157.94 624.18 L159.74 625.38 L161.22 626.48 L162.96 626.76 L164.5 626.85 L166.47 626.69 L168.11 626.68 L170 626.76 L171.79 626.78 L173.83 626.41 L175.77 626.59 L177.42 626.5 L179.3 626.78 L181.32 626.58 L183.07 626.58 L184.78 626.83 L186.77 626.32 L188.28 626.48 L190.1 626.41" fill="none" stroke="#dc2330" stroke-width="2.2" stroke-linejoin="round" stroke-linecap="round" />
<path d="M50.5 496.21 L50.82 498.19 L51.42 500.06 L51.82 501.67 L52.56 502.91 L53.08 505.01 L54.17 506.18 L55.13 507.8 L55.99 509.67 L56.9 511.13 L57.92 512.98 L58.81 514.58 L60.03 515.83 L60.77 517.47 L61.91 519.24 L62.84 520.72 L64.07 522.67 L65.06 524.3 L66.09 525.57 L67.46 527.06 L68.27 528.51 L69.56 530.57 L70.42 531.95 L71.63 533.45 L72.66 535.07 L73.71 536.98 L74.82 538.35 L76.06 540.04 L77.08 541.57 L78.34 542.98 L79.16 544.66 L80.45 546.32 L81.43 547.7 L82.45 549.63 L83.59 551.08 L84.7 552.52 L85.79 554.35 L87.15 555.65 L88.16 557.3 L89.47 558.3 L90.63 560.47 L91.64 561.45 L92.68 563.25 L93.96 564.71 L94.98 565.84 L95.73 566.83 L96.72 567.99 L97.57 569.56 L98.54 570.51 L99.63 571.78 L101.05 573.9 L101.77 574.51 L103.13 576.33 L104.51 578.05 L105.64 579.4 L106.99 580.94 L108.11 582.02 L109.03 583.13 L110.06 583.81 L111.35 584.66 L112.46 585.83 L113.46 586.7 L114.56 588.05 L115.37 589.27 L116.64 590.18 L117.42 591.48 L118.38 592.51 L119.24 593.55 L120.12 594.42 L121.19 595.85 L121.82 597 L123.21 597.97 L124.22 599.01 L125.14 600.49 L126.08 601.32 L127.01 602.62 L128.1 603.76 L129.24 604.84 L130.53 606.03 L131.99 607.84 L133.23 608.94 L134.72 610.5 L136.15 612.01 L137.53 613.2 L139.14 614.68 L140.67 615.96 L142.2 617.34 L143.79 618.28 L145.39 619.62 L146.82 620.98 L148.55 622.06 L149.93 623.34 L151.65 624.54 L153.3 625.15 L154.75 626.34 L156.29 627.3 L157.92 628.32 L159.62 627.94 L161.28 628.5 L162.36 627.27 L163.43 626.57 L164.93 626.4 L166.82 626.38 L168.85 626.34 L170.56 626.47 L172.61 626.8 L174.21 626.38 L176.14 626.39 L178.04 626.87 L179.96 626.71 L181.79 626.85 L183.66 626.7 L185.29 626.52 L187.46 626.61 L189.09 626.42 L189.99 626.71" fill="none" stroke="#dc2330" stroke-width="2.2" stroke-linejoin="round" stroke-linecap="round" />
<rect x="43" y="489.3" width="236.5" height="151.9" fill="none" stroke="#000" stroke-width="1.3"/>
<line x1="39.6" y1="626.5" x2="43" y2="626.5" stroke="#000" stroke-width="1.1" />
<line x1="39.6" y1="595.9" x2="43" y2="595.9" stroke="#000" stroke-width="1.1" />
<line x1="39.6" y1="565.3" x2="43" y2="565.3" stroke="#000" stroke-width="1.1" />
<line x1="39.6" y1="534.7" x2="43" y2="534.7" stroke="#000" stroke-width="1.1" />
<line x1="39.6" y1="504.1" x2="43" y2="504.1" stroke="#000" stroke-width="1.1" />
<line x1="40.8" y1="641.8" x2="43" y2="641.8" stroke="#000" stroke-width="1.1" />
<line x1="40.8" y1="611.2" x2="43" y2="611.2" stroke="#000" stroke-width="1.1" />
<line x1="40.8" y1="580.6" x2="43" y2="580.6" stroke="#000" stroke-width="1.1" />
<line x1="40.8" y1="550" x2="43" y2="550" stroke="#000" stroke-width="1.1" />
<line x1="40.8" y1="519.4" x2="43" y2="519.4" stroke="#000" stroke-width="1.1" />
<line x1="50.8" y1="641.2" x2="50.8" y2="644.6" stroke="#000" stroke-width="1.1" />
<line x1="127" y1="641.2" x2="127" y2="644.6" stroke="#000" stroke-width="1.1" />
<line x1="203.2" y1="641.2" x2="203.2" y2="644.6" stroke="#000" stroke-width="1.1" />
<line x1="279.4" y1="641.2" x2="279.4" y2="644.6" stroke="#000" stroke-width="1.1" />
<line x1="88.9" y1="641.2" x2="88.9" y2="643.4" stroke="#000" stroke-width="1.1" />
<line x1="165.1" y1="641.2" x2="165.1" y2="643.4" stroke="#000" stroke-width="1.1" />
<line x1="241.3" y1="641.2" x2="241.3" y2="643.4" stroke="#000" stroke-width="1.1" />
<text x="35.8" y="630.6" font-size="11.5" text-anchor="end" >0</text>
<text x="35.8" y="600" font-size="11.5" text-anchor="end" >2</text>
<text x="35.8" y="569.4" font-size="11.5" text-anchor="end" >4</text>
<text x="35.8" y="538.8" font-size="11.5" text-anchor="end" >6</text>
<text x="35.8" y="508.2" font-size="11.5" text-anchor="end" >8</text>
<text x="50.8" y="658.6" font-size="11.5" text-anchor="middle" >0</text>
<text x="127" y="658.6" font-size="11.5" text-anchor="middle" >5</text>
<text x="203.2" y="658.6" font-size="11.5" text-anchor="middle" >10</text>
<text x="279.4" y="658.6" font-size="11.5" text-anchor="middle" >15</text>
<text x="159" y="674.8" font-size="12.2" text-anchor="middle" class="l" ><tspan font-style="italic">Z</tspan> (mm)</text>
<text class="l" x="10.2" y="567.3" font-size="12.2" text-anchor="middle" transform="rotate(-90 10.2 567.3)"><tspan font-style="italic">F</tspan> (nN)</text>
<path d="M228.2 519.8 L276.4 514 L276.4 515.8 L228.2 521.6 Z" fill="#111" stroke="#000" stroke-width="1" stroke-linejoin="round"/>
<path d="M218.7 503.8 L263.2 499.4 L276.4 514 L228.2 519.8 Z" fill="url(#chipg)" stroke="#000" stroke-width="1.2" stroke-linejoin="round"/>
<path d="M180 516.3 L219.6 509.4 L223.8 514.6 Z" fill="#000" stroke="#000" stroke-width="0.9" stroke-linejoin="round"/>
<path d="M205.85 513.63 L220.51 510.53 L222.89 513.47 Z" fill="#fff"/>
<path d="M183.6 517 L194.6 517 L193.8 527.25 Q193.4 532.2 189.1 532.2 Q184.8 532.2 184.4 527.25 Z" fill="url(#tipg)" stroke="#000" stroke-width="1.25"/>
<text x="202.6" y="563.6" font-size="12" text-anchor="middle" ><tspan font-style="italic">T</tspan> = 37 °C, <tspan font-style="italic">v</tspan> = 2 µm s<tspan dy="-4.5" font-size="8.5">−1</tspan></text>
<text class="pl" x="307.2" y="489.6" font-size="21" font-weight="bold" font-family="Liberation Serif, serif">g</text>
<path d="M331 630 L331.34 629.33 L331.78 628.47 L332.3 627.44 L332.88 626.3 L333.5 625.06 L334.15 623.78 L334.79 622.48 L335.42 621.21 L336 620 L336.5 618.94 L337 617.86 L337.5 616.77 L338 615.67 L338.5 614.56 L339 613.45 L339.5 612.33 L340 611.22 L340.5 610.1 L341 609 L341.5 607.9 L341.98 606.82 L342.47 605.73 L342.95 604.65 L343.44 603.56 L343.93 602.47 L344.43 601.37 L344.94 600.26 L345.46 599.14 L346 598 L346.51 596.95 L347.03 595.88 L347.56 594.8 L348.11 593.71 L348.66 592.61 L349.22 591.51 L349.78 590.41 L350.34 589.3 L350.9 588.2 L351.45 587.09 L352 586 L352.55 584.91 L353.09 583.8 L353.64 582.7 L354.18 581.59 L354.73 580.49 L355.27 579.39 L355.82 578.29 L356.36 577.2 L356.91 576.12 L357.45 575.05 L358 574 L358.6 572.86 L359.18 571.74 L359.77 570.63 L360.35 569.53 L360.94 568.44 L361.53 567.35 L362.13 566.27 L362.74 565.18 L363.36 564.1 L364 563 L364.66 561.89 L365.34 560.77 L366.03 559.64 L366.73 558.5 L367.44 557.38 L368.15 556.26 L368.87 555.15 L369.58 554.07 L370.3 553.02 L371 552 L371.78 550.9 L372.56 549.84 L373.33 548.8 L374.11 547.78 L374.89 546.79 L375.67 545.81 L376.44 544.86 L377.22 543.92 L378 543 L378.88 541.98 L379.75 540.97 L380.62 539.99 L381.5 539.03 L382.38 538.1 L383.25 537.2 L384.12 536.33 L385 535.5 L385.99 534.6 L386.97 533.74 L387.95 532.92 L388.93 532.15 L389.93 531.4 L390.95 530.69 L392 530 L393.03 529.36 L394.01 528.79 L394.99 528.26 L396.03 527.74 L397.17 527.21 L398.48 526.64 L400 526 L400.92 525.62 L401.92 525.22 L402.98 524.81 L404.1 524.38 L405.26 523.94 L406.45 523.49 L407.68 523.04 L408.91 522.6 L410.16 522.15 L411.4 521.72 L412.62 521.3 L413.83 520.89 L415 520.5 L416.15 520.13 L417.3 519.76 L418.44 519.4 L419.58 519.04 L420.72 518.69 L421.87 518.35 L423.01 518.02 L424.16 517.69 L425.31 517.37 L426.47 517.07 L427.64 516.77 L428.81 516.48 L430 516.2 L431.24 515.93 L432.57 515.66 L433.95 515.39 L435.37 515.14 L436.81 514.89 L438.24 514.65 L439.63 514.42 L440.97 514.2 L442.22 514.01 L443.38 513.82 L444.41 513.66 L445.29 513.52 L446 513.4" fill="none" stroke="#d42a36" stroke-width="1.7" stroke-dasharray="5.5 3.5"/>
<rect x="329.2" y="633.88" width="8.79" height="8.72" fill="url(#hrF)" stroke="#cf1f2e" stroke-width="1" fill-opacity="0.92"/>
<rect x="337.99" y="603.36" width="8.79" height="39.24" fill="url(#hrF)" stroke="#cf1f2e" stroke-width="1" fill-opacity="0.92"/>
<rect x="346.78" y="577.2" width="8.79" height="65.4" fill="url(#hrF)" stroke="#cf1f2e" stroke-width="1" fill-opacity="0.92"/>
<rect x="355.57" y="546.68" width="8.79" height="95.92" fill="url(#hrF)" stroke="#cf1f2e" stroke-width="1" fill-opacity="0.92"/>
<rect x="364.36" y="516.16" width="8.79" height="126.44" fill="url(#hrF)" stroke="#cf1f2e" stroke-width="1" fill-opacity="0.92"/>
<rect x="373.15" y="516.16" width="8.79" height="126.44" fill="url(#hrF)" stroke="#cf1f2e" stroke-width="1" fill-opacity="0.92"/>
<rect x="381.94" y="555.4" width="8.79" height="87.2" fill="url(#hrF)" stroke="#cf1f2e" stroke-width="1" fill-opacity="0.92"/>
<rect x="390.73" y="551.04" width="8.79" height="91.56" fill="url(#hrF)" stroke="#cf1f2e" stroke-width="1" fill-opacity="0.92"/>
<rect x="399.52" y="581.56" width="8.79" height="61.04" fill="url(#hrF)" stroke="#cf1f2e" stroke-width="1" fill-opacity="0.92"/>
<rect x="408.31" y="633.88" width="8.79" height="8.72" fill="url(#hrF)" stroke="#cf1f2e" stroke-width="1" fill-opacity="0.92"/>
<rect x="417.1" y="629.52" width="8.79" height="13.08" fill="url(#hrF)" stroke="#cf1f2e" stroke-width="1" fill-opacity="0.92"/>
<rect x="425.89" y="625.16" width="8.79" height="17.44" fill="url(#hrF)" stroke="#cf1f2e" stroke-width="1" fill-opacity="0.92"/>
<rect x="434.68" y="629.52" width="8.79" height="13.08" fill="url(#hrF)" stroke="#cf1f2e" stroke-width="1" fill-opacity="0.92"/>
<rect x="443.47" y="633.88" width="8.79" height="8.72" fill="url(#hrF)" stroke="#cf1f2e" stroke-width="1" fill-opacity="0.92"/>
<rect x="452.26" y="638.24" width="8.79" height="4.36" fill="url(#hrF)" stroke="#cf1f2e" stroke-width="1" fill-opacity="0.92"/>
<rect x="461.05" y="638.24" width="8.79" height="4.36" fill="url(#hrF)" stroke="#cf1f2e" stroke-width="1" fill-opacity="0.92"/>
<rect x="496.21" y="638.24" width="8.79" height="4.36" fill="url(#hrF)" stroke="#cf1f2e" stroke-width="1" fill-opacity="0.92"/>
<rect x="468.6" y="538.7" width="29.3" height="14" fill="url(#hrB)" stroke="#cf1f2e" stroke-width="1"/>
<rect x="328.5" y="489.3" width="352.7" height="153.3" fill="none" stroke="#000" stroke-width="1.3"/>
<line x1="325.1" y1="642.6" x2="328.5" y2="642.6" stroke="#000" stroke-width="1.1" />
<line x1="325.1" y1="599" x2="328.5" y2="599" stroke="#000" stroke-width="1.1" />
<line x1="325.1" y1="555.4" x2="328.5" y2="555.4" stroke="#000" stroke-width="1.1" />
<line x1="325.1" y1="511.8" x2="328.5" y2="511.8" stroke="#000" stroke-width="1.1" />
<line x1="326.3" y1="620.8" x2="328.5" y2="620.8" stroke="#000" stroke-width="1.1" />
<line x1="326.3" y1="577.2" x2="328.5" y2="577.2" stroke="#000" stroke-width="1.1" />
<line x1="326.3" y1="533.6" x2="328.5" y2="533.6" stroke="#000" stroke-width="1.1" />
<line x1="329.2" y1="642.6" x2="329.2" y2="646" stroke="#000" stroke-width="1.1" />
<line x1="373.15" y1="642.6" x2="373.15" y2="644.8" stroke="#000" stroke-width="1.1" />
<line x1="373.15" y1="489.3" x2="373.15" y2="491.7" stroke="#000" stroke-width="1.1" />
<line x1="417.1" y1="642.6" x2="417.1" y2="646" stroke="#000" stroke-width="1.1" />
<line x1="417.1" y1="489.3" x2="417.1" y2="492.7" stroke="#000" stroke-width="1.1" />
<line x1="461.05" y1="642.6" x2="461.05" y2="644.8" stroke="#000" stroke-width="1.1" />
<line x1="461.05" y1="489.3" x2="461.05" y2="491.7" stroke="#000" stroke-width="1.1" />
<line x1="505" y1="642.6" x2="505" y2="646" stroke="#000" stroke-width="1.1" />
<line x1="505" y1="489.3" x2="505" y2="492.7" stroke="#000" stroke-width="1.1" />
<line x1="548.95" y1="642.6" x2="548.95" y2="644.8" stroke="#000" stroke-width="1.1" />
<line x1="548.95" y1="489.3" x2="548.95" y2="491.7" stroke="#000" stroke-width="1.1" />
<line x1="592.9" y1="642.6" x2="592.9" y2="646" stroke="#000" stroke-width="1.1" />
<line x1="592.9" y1="489.3" x2="592.9" y2="492.7" stroke="#000" stroke-width="1.1" />
<line x1="636.85" y1="642.6" x2="636.85" y2="644.8" stroke="#000" stroke-width="1.1" />
<line x1="636.85" y1="489.3" x2="636.85" y2="491.7" stroke="#000" stroke-width="1.1" />
<line x1="680.8" y1="642.6" x2="680.8" y2="646" stroke="#000" stroke-width="1.1" />
<text x="322.2" y="646.9" font-size="12" text-anchor="end">0</text>
<text x="322.2" y="603.3" font-size="12" text-anchor="end">10</text>
<text x="322.2" y="559.7" font-size="12" text-anchor="end">20</text>
<text x="322.2" y="516.1" font-size="12" text-anchor="end">30</text>
<text x="329.2" y="659.2" font-size="11.5" text-anchor="middle" >0</text>
<text x="417.1" y="659.2" font-size="11.5" text-anchor="middle" >1</text>
<text x="505" y="659.2" font-size="11.5" text-anchor="middle" >2</text>
<text x="592.9" y="659.2" font-size="11.5" text-anchor="middle" >3</text>
<text x="680.8" y="659.2" font-size="11.5" text-anchor="middle" >4</text>
<text x="503.5" y="550.5" font-size="12" text-anchor="start" ><tspan font-style="italic">T</tspan> = 37 °C, <tspan font-style="italic">v</tspan> = 2 µm s<tspan dy="-4.5" font-size="8.5">−1</tspan></text>
<text x="629.4" y="594" font-size="12.2" text-anchor="middle" class="l" >Hertz</text>
<text x="631.2" y="607.6" font-size="12.2" text-anchor="middle" class="l" >model</text>
<text x="505.7" y="677.8" font-size="12.2" text-anchor="middle" class="l" >Elastic modulus (kPa)</text>
<text x="0.5" y="720" font-size="19.5" text-anchor="start" class="pl" font-weight="bold">h</text>
<line x1="43.1" y1="869.6" x2="160" y2="869.6" stroke="#000" stroke-width="1.6" />
<path d="M56.7 745.8 L57.05 746.03 L57.5 746.85 L58.03 748.5 L58.63 749 L59.28 750.65 L59.96 752.08 L60.65 753.5 L61.33 754.37 L62 756.13 L62.54 757.02 L63.11 758.42 L63.69 758.66 L64.28 760.66 L64.88 760.96 L65.48 762.69 L66.09 763.47 L66.68 764.88 L67.27 765.29 L67.84 766.49 L68.4 767.29 L68.99 769.1 L69.56 769.96 L70.13 770.73 L70.68 771.81 L71.23 772.77 L71.77 773.97 L72.32 775.39 L72.87 776.33 L73.43 777.65 L74 778.08 L74.65 780.01 L75.31 781.32 L75.97 782.24 L76.64 783.39 L77.31 784.65 L77.99 785.02 L78.66 786.5 L79.33 787.21 L80 788.98 L80.75 789.91 L81.51 790.64 L82.26 792.1 L83.02 793.55 L83.77 794.41 L84.52 795.05 L85.26 796.91 L86 797.06 L86.78 798.94 L87.49 800.07 L88.17 800.79 L88.88 801.95 L89.67 802.56 L90.59 803.4 L91.7 804.97 L92.33 805.98 L93.01 806.81 L93.74 807.26 L94.5 808.7 L95.29 808.7 L96.11 810.09 L96.96 810.58 L97.81 811.85 L98.68 813.44 L99.56 813.52 L100.43 815.32 L101.3 816.16 L102.16 816.83 L103 817.06 L103.9 818.37 L104.81 819.48 L105.72 819.76 L106.64 820.83 L107.56 821.48 L108.49 823.08 L109.42 824 L110.35 824.84 L111.28 825.48 L112.22 826.12 L113.15 826.4 L114.08 827.61 L115 828.66 L116 829.48 L117.01 829.57 L118.01 830.35 L119.02 831.22 L120.03 832.83 L121.04 832.79 L122.04 833.82 L123.04 834.64 L124.04 835.78 L125.03 835.74 L126.02 836.57 L127 837.77 L128.06 837.82 L129.11 838.61 L130.15 839.16 L131.18 840.77 L132.21 840.71 L133.24 841.63 L134.27 842.14 L135.29 843.38 L136.32 843.75 L137.36 844.27 L138.4 844.79 L139.45 845.21 L140.49 846.42 L141.54 846.32 L142.6 847.47 L143.65 847.78 L144.7 848.38 L145.76 849.17 L146.82 849.5 L147.88 850.49 L148.94 850.53 L150 851.02 L151.17 851.71 L152.36 852.21 L153.54 853.53 L154.73 853.68 L155.92 854.35 L157.11 854.93 L158.3 854.79 L159.48 856.04 L160.64 855.93 L161.8 856.46 L163.07 856.98 L164.31 857.67 L165.54 858.21 L166.76 858.1 L167.99 859.17 L169.21 859.21 L170.46 859.45 L171.71 860.47 L173 860.87 L174.15 861.2 L175.25 861.01 L176.35 861.93 L177.44 862.11 L178.56 862.61 L179.72 862.69 L180.95 863.22 L182.26 862.97 L183.67 863.5 L185.2 863.78 L186.22 863.67 L187.28 863.79 L188.37 863.83 L189.49 864.43 L190.65 864.07 L191.84 864.56 L193.06 864.49 L194.3 864.75 L195.57 864.46 L196.86 864.34 L198.17 865.03 L199.51 864.6 L200.86 864.91 L202.22 865.42 L203.61 864.77 L205 865.71 L206.1 865.45 L207.18 865.48 L208.23 865.65 L209.28 865.08 L210.31 865.09 L211.35 865.83 L212.39 865.74 L213.45 865.83 L214.53 866.05 L215.64 865.53 L216.79 865.45 L217.99 866.29 L219.23 865.41 L220.54 865.89 L221.91 866.02 L223.35 866.38 L224.87 865.53 L226.48 866.17 L228.19 865.56 L230 865.95 L230.94 866.13 L231.93 866.36 L232.97 865.57 L234.07 866.28 L235.21 865.68 L236.39 865.94 L237.61 866.52 L238.87 866.39 L240.16 865.62 L241.48 865.55 L242.82 865.58 L244.19 866.33 L245.58 865.59 L246.99 866.34 L248.41 866.36 L249.84 866.37 L251.27 866.49 L252.72 866.18 L254.16 866.37 L255.6 866.09 L257.03 866.21 L258.45 865.61 L259.86 866.09 L261.26 866.53 L262.64 865.92 L263.99 866.24 L265.32 865.71 L266.62 866.01 L267.89 866.06 L269.13 866.29 L270.33 865.84 L271.48 865.98 L272.59 865.7 L273.66 866.09 L274.67 866.45 L275.63 865.89 L276.53 866.16 L277.37 866.06 L278.15 865.7 L278.86 866.2 L279.5 865.71 L279.5 871.51 L278.87 871.32 L278.19 871.69 L277.46 871.67 L276.68 871.72 L275.86 872.06 L274.99 871.8 L274.08 871.88 L273.13 871.98 L272.14 872.08 L271.11 872.04 L270.05 871.79 L268.95 871.94 L267.83 871.38 L266.67 871.52 L265.48 871.35 L264.26 871.54 L263.02 871.26 L261.76 871.74 L260.47 871.25 L259.16 871.88 L257.83 871.31 L256.49 871.89 L255.13 871.74 L253.76 872.1 L252.38 871.78 L250.98 871.4 L249.58 872.1 L248.17 872 L246.76 871.98 L245.34 872.08 L243.92 871.28 L242.5 871.95 L241.08 871.53 L239.67 871.57 L238.26 871.83 L236.85 871.16 L235.46 871.91 L234.07 871.79 L232.7 871.82 L231.34 871.79 L230 871.58 L228.89 872.08 L227.76 871.75 L226.61 871.1 L225.44 871.26 L224.24 871.81 L223.03 871.5 L221.81 871.52 L220.56 871.37 L219.3 871.09 L218.03 871.6 L216.75 872.04 L215.45 871.77 L214.14 871.19 L212.83 872 L211.51 871.83 L210.18 871.99 L208.85 872.01 L207.51 871.83 L206.17 871.25 L204.83 872.03 L203.49 871.43 L202.15 871.2 L200.81 871.53 L199.48 872.02 L198.15 871.16 L196.83 871.92 L195.51 872 L194.2 871.34 L192.9 871.15 L191.62 871.52 L190.34 871.3 L189.08 871.85 L187.83 871.41 L186.6 871.05 L185.38 871.08 L184.19 871.84 L183.01 871.21 L181.85 871.43 L180.71 871.49 L179.6 871.95 L178.51 871.49 L177.45 871.58 L176.41 871.31 L175.4 871.09 L174.42 871.72 L173.47 871.19 L172.55 871.24 L171.67 871.71 L170.82 871.4 L170 871.13 L167.64 871.84 L165.54 871.55 L163.67 870.96 L162.01 870.78 L160.54 871.05 L159.24 871.41 L158.08 871.09 L157.03 871.19 L156.08 870.9 L155.2 871.23 L154.37 870.22 L153.56 870.89 L152.75 870.22 L151.92 870.64 L151.05 870.28 L150.1 870.03 L148.41 870.26 L146.85 870.27 L145.4 869.9 L144.05 869.17 L142.79 869.15 L141.6 868.53 L140.49 868.52 L139.42 868.34 L138.4 868.01 L136.76 867.44 L135.4 866.92 L134.22 866.39 L133.12 865.43 L132 864.98 L130.89 864.48 L129.86 863.65 L128.87 862.4 L127.86 861.49 L126.8 861.15 L125.68 859.86 L124.53 859.98 L123.36 858.51 L122.18 858.19 L121 857.33 L120.01 855.86 L119.01 855.57 L118.01 854.55 L117.01 853.74 L116 852.22 L115 852.17 L114 851.02 L112.99 850.1 L111.97 849.23 L110.97 848.72 L109.98 847.49 L109 846.28 L108.19 845.64 L107.39 845.03 L106.61 843.45 L105.83 842.54 L105.05 842.01 L104.24 841.22 L103.4 840.08 L102.63 839.6 L101.83 837.73 L101.01 837.33 L100.18 835.86 L99.35 835.05 L98.54 834.08 L97.75 833.12 L97 831.52 L96.29 830.92 L95.61 829.68 L94.95 829.31 L94.31 827.79 L93.67 827.44 L93.03 825.59 L92.37 824.78 L91.7 823.59 L91.09 822.74 L90.47 821.33 L89.84 820.95 L89.21 819.34 L88.58 817.87 L87.94 816.9 L87.29 816.22 L86.65 814.78 L86 813.66 L85.41 812.91 L84.82 811.19 L84.22 809.85 L83.62 808.71 L83.02 808.27 L82.41 807.37 L81.81 805.85 L81.2 805.28 L80.6 803.85 L80 802.22 L79.33 801.8 L78.66 800.33 L77.99 799.65 L77.31 798.04 L76.64 797.44 L75.97 796.34 L75.31 794.77 L74.65 793.7 L74 792.8 L73.43 791.64 L72.87 790.71 L72.32 789.74 L71.77 788.51 L71.23 787.37 L70.68 786.21 L70.13 785.02 L69.56 783.79 L68.99 782.37 L68.4 781.37 L67.85 780.4 L67.29 779.69 L66.71 778.36 L66.14 777.68 L65.55 775.81 L64.96 774.7 L64.37 773.67 L63.77 772.56 L63.18 771.68 L62.59 770.34 L62 768.66 L61.44 767.61 L60.85 766.55 L60.23 765.18 L59.6 764.49 L58.97 762.95 L58.35 761.4 L57.75 760.65 L57.19 759.22 L56.67 758.51 L56.21 757.22 L55.81 757.12 L55.5 756.11 Z" fill="#dc2330" stroke="#dc2330" stroke-width="1.4" stroke-linejoin="round"/>
<path d="M70 773.39 L71.5 776.29 L73 779.5 L74.5 782.35 L76 785.11 L77.5 787.5 L79 789.7 L80.5 792.4 L82 794.54 L83.5 797 L85 799.34 L86.5 801.51 L88 803.89 L89.5 805.96 L91 807.69 L92.5 809.93 L94 811.73 L95.5 813.16 L97 814.82 L98.5 817.29 L100 818.68 L101.5 820.57 L103 821.61 L104.5 823.58 L106 824.61 L107.5 826.17 L109 828.12 L110.5 829.58 L112 830.63 L113.5 831.6 L115 833.36 L116.5 834.21 L118 835.18 L119.5 836.73" fill="none" stroke="#fff" stroke-width="0.75" stroke-linejoin="round" stroke-linecap="round" opacity="0.85" stroke-dasharray="18 3"/>
<path d="M80 793.35 L81.5 795.55 L83 798.37 L84.5 800.13 L86 802.53 L87.5 805.48 L89 807.59 L90.5 809.28 L92 811.61 L93.5 813.66 L95 815.51 L96.5 817.17 L98 819.2 L99.5 820.67 L101 822.95 L102.5 824.31 L104 825.88 L105.5 827.16 L107 828.72 L108.5 830.62 L110 832.11 L111.5 833.34 L113 834.2 L114.5 835.85 L116 836.98 L117.5 837.93 L119 839.24 L120.5 840.66 L122 841.79 L123.5 842.92 L125 843.73 L126.5 844.96 L128 845.67 L129.5 846.86 L131 848.42 L132.5 848.96 L134 849.99 L135.5 851.21 L137 851.82 L138.5 852.49 L140 853.3 L141.5 853.65 L143 854.71 L144.5 855.24 L146 856.11 L147.5 856.78 L149 857.03 L150.5 857.53 L152 858.18 L153.5 859.21 L155 859.49 L156.5 860.04 L158 860.2 L159.5 861.09 L161 861 L162.5 861.4 L164 861.97 L165.5 862.6 L167 862.74 L168.5 863.28 L170 863.24 L171.5 864.04 L173 864.29 L174.5 864.62" fill="none" stroke="#fff" stroke-width="0.75" stroke-linejoin="round" stroke-linecap="round" opacity="0.85" stroke-dasharray="24 4"/>
<path d="M95 817.99 L96.5 819.67 L98 821.74 L99.5 823.27 L101 825.52 L102.5 826.99 L104 828.57 L105.5 829.87 L107 831.5 L108.5 833.35 L110 834.87 L111.5 836.14 L113 837.05 L114.5 838.67 L116 839.71 L117.5 840.84 L119 842.16 L120.5 843.51 L122 844.7 L123.5 845.74 L125 846.63 L126.5 847.8 L128 848.53 L129.5 849.79 L131 851.31 L132.5 851.86 L134 852.9 L135.5 854.03 L137 854.63 L138.5 855.28 L140 856.01 L141.5 856.32 L143 857.29 L144.5 857.78 L146 858.61 L147.5 859.19 L149 859.39 L150.5 859.78 L152 860.4 L153.5 861.29 L155 861.55 L156.5 862.01 L158 862.15 L159.5 862.93" fill="none" stroke="#fff" stroke-width="0.75" stroke-linejoin="round" stroke-linecap="round" opacity="0.85" stroke-dasharray="14 5"/>
<path d="M105 832.32 L106.5 833.58 L108 835.5 L109.5 837.08 L111 838.65 L112.5 839.59 L114 840.91 L115.5 842.25 L117 843.34 L118.5 844.61 L120 845.94 L121.5 847.19 L123 848.17 L124.5 849.54 L126 850.05 L127.5 851.24 L129 852.23 L130.5 853.65 L132 854.55 L133.5 855.44 L135 856.54 L136.5 857.23 L138 857.86 L139.5 858.43 L141 859 L142.5 859.7 L144 860.06 L145.5 860.92 L147 861.41 L148.5 861.76 L150 861.86 L151.5 862.46 L153 862.9 L154.5 863.19 L156 863.81 L157.5 864.16 L159 864.55 L160.5 864.56 L162 864.66 L163.5 865.04 L165 865.62 L166.5 865.85 L168 866.33 L169.5 866.11 L171 866.49 L172.5 866.73 L174 867.05 L175.5 866.85 L177 867.41 L178.5 867.66 L180 867.93 L181.5 867.86 L183 867.79 L184.5 868.21 L186 867.9 L187.5 868.08 L189 868.53 L190.5 868.23 L192 868.46 L193.5 868.37 L195 868.67 L196.5 868.69 L198 868.53 L199.5 868.83" fill="none" stroke="#fff" stroke-width="0.75" stroke-linejoin="round" stroke-linecap="round" opacity="0.85" stroke-dasharray="26 3"/>
<path d="M115 845.12 L116.5 845.94 L118 847.28 L119.5 848.59 L121 849.97 L122.5 851.05 L124 852.23 L125.5 852.76 L127 854.18 L128.5 854.9 L130 856.36 L131.5 857.55 L133 858.19 L134.5 859.29 L136 860.09 L137.5 860.69 L139 861.25 L140.5 861.89 L142 862.16 L143.5 862.73 L145 863.36 L146.5 863.95 L148 864.33 L149.5 864.31 L151 864.67 L152.5 864.96 L154 865.44 L155.5 866.01 L157 866.29 L158.5 866.35 L160 866.64 L161.5 866.51 L163 866.71 L164.5 867.18 L166 867.58 L167.5 867.9 L169 867.76 L170.5 867.75 L172 868.24 L173.5 868.15 L175 868.26" fill="none" stroke="#fff" stroke-width="0.75" stroke-linejoin="round" stroke-linecap="round" opacity="0.85" stroke-dasharray="16 5"/>
<path d="M128 857.33 L129.5 858.81 L131 860.2 L132.5 860.82 L134 861.85 L135.5 862.73 L137 863.3 L138.5 863.86 L140 864.37 L141.5 864.53 L143 865.27 L144.5 865.61 L146 866.31 L147.5 866.64 L149 866.65 L150.5 866.75 L152 867.26 L153.5 867.71 L155 867.9 L156.5 868.08 L158 868.17 L159.5 868.59 L161 868.29 L162.5 868.3 L164 868.62 L165.5 869.14 L167 869.33 L168.5 869.35 L170 869.01 L171.5 869.6 L173 869.35 L174.5 869.78 L176 869.5 L177.5 869.88 L179 870.07 L180.5 870.04 L182 869.89 L183.5 870.03 L185 869.96 L186.5 869.73 L188 870.09 L189.5 870.36 L191 870.12 L192.5 870.05 L194 870.12 L195.5 870.64 L197 870.49 L198.5 870.22 L200 870.55 L201.5 870.24 L203 870.22 L204.5 870.71 L206 870.29 L207.5 870.69 L209 870.78" fill="none" stroke="#fff" stroke-width="0.75" stroke-linejoin="round" stroke-linecap="round" opacity="0.85" stroke-dasharray="20 4"/>
<path d="M185 867.54 L186.5 867.38 L188 867.64 L189.5 868.05 L191 867.81 L192.5 867.89 L194 868 L195.5 868.24 L197 868.12 L198.5 868.16 L200 868.27 L201.5 868.26 L203 868.2 L204.5 868.63 L206 868.41 L207.5 868.68 L209 868.62 L210.5 868.59 L212 868.83 L213.5 868.71 L215 868.7 L216.5 868.73 L218 868.95 L219.5 868.32 L221 868.68 L222.5 868.84 L224 868.88 L225.5 868.51 L227 868.65 L228.5 868.8 L230 868.77 L231.5 869.03 L233 868.7 L234.5 868.94 L236 868.74 L237.5 868.97 L239 869.01" fill="none" stroke="#fff" stroke-width="0.75" stroke-linejoin="round" stroke-linecap="round" opacity="0.85" stroke-dasharray="10 8"/>
<path d="M145 868 L146.5 868.52 L148 868.68 L149.5 868.56 L151 868.77 L152.5 868.91 L154 869.17 L155.5 869.75 L157 869.88 L158.5 869.91 L160 869.99 L161.5 869.71 L163 869.77 L164.5 870.14 L166 870.54 L167.5 870.77 L169 870.45 L170.5 870.35 L172 870.66 L173.5 870.39 L175 870.53 L176.5 870.59 L178 870.8 L179.5 871.17 L181 870.82 L182.5 870.65 L184 871.09 L185.5 870.49 L187 870.58 L188.5 871.03 L190 870.88" fill="none" stroke="#fff" stroke-width="0.75" stroke-linejoin="round" stroke-linecap="round" opacity="0.85" stroke-dasharray="12 4"/>
<path d="M73 765.4 L73.21 767.05 L73.42 769.14 L73.61 772.1 L74.02 774.54 L74.12 777.21 L74.58 779.72 L74.88 782.76 L75.25 784.83 L75.57 787.07 L75.93 789.5 L76.32 791.86 L76.74 794.83 L77.17 796.7 L77.82 799.04 L78.32 801.86 L79.26 804.52 L79.82 806.7 L80.37 809.33 L80.89 811.64 L81.41 814.1 L81.77 816.55 L82.34 819.2 L82.87 821.84 L83.51 823.75 L84.09 825.49 L84.63 827.83 L85.75 830.33 L86.75 832.83 L87.66 835.11 L88.42 837.31 L89.55 839.85 L90.66 842.62 L91.72 844.92 L92.62 847.37 L93.98 849.17 L94.94 851.54 L96.05 853.37 L97.36 855.74 L98.82 858.31 L100.4 860.25 L101.66 862.05 L103.34 864.43 L104.96 866.17 L106.88 867.57 L109.38 868.88 L111.49 869.59 L113.51 870.86 L115.66 871.88 L118.44 872.97 L119.78 873.35 L120.99 873.8 L123.54 875.12 L124.48 875" fill="none" stroke="#3636a8" stroke-width="2.5" stroke-linejoin="round" stroke-linecap="round" />
<path d="M72.6 790.5 L72.61 791.99 L72.6 794.8 L72.44 797.35 L72.5 800.03 L72.64 802.62 L73.11 805.39 L73.74 807.53 L74.79 809.35 L75.75 811.81 L76.43 814.05 L77.29 816.81 L78.1 819.05 L79.17 821.55 L80.07 823.76 L80.8 826.01 L81.7 828.65 L82.77 830.61 L83.48 832.88 L84.66 835.24 L85.42 837.67 L86.34 840.52 L87.42 842.7 L88.55 844.94 L89.52 847.26 L90.61 849.67 L91.85 852.12 L92.79 854.53 L94.12 856.77 L95.41 859.01 L96.66 861.6 L97.93 863.84 L99.86 866.03 L101.78 867.37 L104.15 868.75 L106.49 869.6 L108.15 870.74 L110.32 871.6 L113.26 871.91 L116.05 872.88 L118.92 873.54 L120.62 874.25 L123.03 874.83 L123.97 875.29" fill="none" stroke="#3636a8" stroke-width="2.5" stroke-linejoin="round" stroke-linecap="round" />
<path d="M73.6 803.2 L74.14 804.84 L74.95 807.32 L75.76 809.83 L76.6 812.26 L77.54 814.97 L78.3 817.11 L79 819.63 L80.12 821.91 L80.88 824.35 L81.9 826.38 L82.71 829.07 L83.75 831.41 L84.63 833.92 L85.6 835.74 L86.41 838.08 L87.59 840.87 L88.34 842.93 L89.33 845.49 L90.39 847.3 L91.62 850.01 L92.64 852.82 L94 855.02 L95.14 857.04 L96.19 859.47 L97.75 862.28 L98.99 863.94 L100.95 866.43 L103.01 867.82 L105.06 869.08 L107.39 870.32 L109.02 871.28 L111.61 871.84 L114.12 872.98 L116.82 873.24 L120.03 874.34 L121.67 874.77 L124.24 875.52 L125.16 875.73" fill="none" stroke="#3636a8" stroke-width="1.8" stroke-linejoin="round" stroke-linecap="round" />
<rect x="43.1" y="736.8" width="236.1" height="151.9" fill="none" stroke="#000" stroke-width="1.3"/>
<line x1="43.1" y1="869.6" x2="46.5" y2="869.6" stroke="#000" stroke-width="1.1" />
<line x1="43.1" y1="831.7" x2="46.5" y2="831.7" stroke="#000" stroke-width="1.1" />
<line x1="43.1" y1="793.8" x2="46.5" y2="793.8" stroke="#000" stroke-width="1.1" />
<line x1="43.1" y1="755.9" x2="46.5" y2="755.9" stroke="#000" stroke-width="1.1" />
<line x1="43.1" y1="850.65" x2="45.3" y2="850.65" stroke="#000" stroke-width="1.1" />
<line x1="43.1" y1="812.75" x2="45.3" y2="812.75" stroke="#000" stroke-width="1.1" />
<line x1="43.1" y1="774.85" x2="45.3" y2="774.85" stroke="#000" stroke-width="1.1" />
<line x1="57" y1="885.3" x2="57" y2="888.7" stroke="#000" stroke-width="1.1" />
<line x1="109.9" y1="885.3" x2="109.9" y2="888.7" stroke="#000" stroke-width="1.1" />
<line x1="162.8" y1="885.3" x2="162.8" y2="888.7" stroke="#000" stroke-width="1.1" />
<line x1="215.7" y1="885.3" x2="215.7" y2="888.7" stroke="#000" stroke-width="1.1" />
<line x1="268.6" y1="885.3" x2="268.6" y2="888.7" stroke="#000" stroke-width="1.1" />
<line x1="83.45" y1="886.5" x2="83.45" y2="888.7" stroke="#000" stroke-width="1.1" />
<line x1="136.35" y1="886.5" x2="136.35" y2="888.7" stroke="#000" stroke-width="1.1" />
<line x1="189.25" y1="886.5" x2="189.25" y2="888.7" stroke="#000" stroke-width="1.1" />
<line x1="242.15" y1="886.5" x2="242.15" y2="888.7" stroke="#000" stroke-width="1.1" />
<text x="38.6" y="873.9" font-size="12" text-anchor="end">0</text>
<text x="38.6" y="836" font-size="12" text-anchor="end">2</text>
<text x="38.6" y="798.1" font-size="12" text-anchor="end">4</text>
<text x="38.6" y="760.2" font-size="12" text-anchor="end">6</text>
<text x="57" y="903.3" font-size="12" text-anchor="middle">0</text>
<text x="109.9" y="903.3" font-size="12" text-anchor="middle">1</text>
<text x="162.8" y="903.3" font-size="12" text-anchor="middle">2</text>
<text x="215.7" y="903.3" font-size="12" text-anchor="middle">3</text>
<text x="268.6" y="903.3" font-size="12" text-anchor="middle">4</text>
<text x="159" y="923.5" font-size="12.2" text-anchor="middle" class="l" ><tspan font-style="italic">Z</tspan> (mm)</text>
<text class="l" x="10.2" y="813.7" font-size="12.2" text-anchor="middle" transform="rotate(-90 10.2 813.7)"><tspan font-style="italic">F</tspan> (nN)</text>
<path d="M228.2 762 L274.6 755.4 L274.6 757.2 L228.2 763.8 Z" fill="#111" stroke="#000" stroke-width="1" stroke-linejoin="round"/>
<path d="M218.7 746.4 L261.8 741.6 L274.6 755.4 L228.2 762 Z" fill="url(#chipg)" stroke="#000" stroke-width="1.2" stroke-linejoin="round"/>
<path d="M182.2 758.2 L219.6 751.8 L223.8 756.8 Z" fill="#000" stroke="#000" stroke-width="0.9" stroke-linejoin="round"/>
<path d="M206.69 755.78 L220.53 752.91 L222.87 755.69 Z" fill="#fff"/>
<circle cx="190.2" cy="765.2" r="7.7" fill="url(#sphg)" stroke="#98a49c" stroke-width="0.9"/>
<text x="184.6" y="793.9" font-size="12" text-anchor="middle" ><tspan font-style="italic">T</tspan> = 25 °C, <tspan font-style="italic">v</tspan> = 6 µm s<tspan dy="-4.5" font-size="8.5">−1</tspan></text>
<text x="201.5" y="828.4" font-size="12" text-anchor="middle" ><tspan font-style="italic">T</tspan> = 37 °C, <tspan font-style="italic">v</tspan> = 10 µm s<tspan dy="-4.5" font-size="8.5">−1</tspan></text>
<line x1="138.4" y1="804.6" x2="99.35" y2="836.21" stroke="#000" stroke-width="1.5" />
<path d="M94.3 840.3 L97.99 832.94 L102.27 838.22 Z" fill="#000"/>
<line x1="199.2" y1="835.4" x2="164.15" y2="847.48" stroke="#000" stroke-width="1.5" />
<path d="M158 849.6 L163.98 843.94 L166.2 850.37 Z" fill="#000"/>
<text x="307.3" y="720.8" font-size="19.5" text-anchor="start" class="pl" font-weight="bold">i</text>
<rect x="358.8" y="872.35" width="8" height="16.95" fill="url(#hbB)" stroke="#2e2e96" stroke-width="1" />
<rect x="372" y="855.42" width="8" height="33.88" fill="url(#hbB)" stroke="#2e2e96" stroke-width="1" />
<rect x="385.2" y="838.47" width="8" height="50.83" fill="url(#hbB)" stroke="#2e2e96" stroke-width="1" />
<rect x="398.4" y="770.68" width="8" height="118.62" fill="url(#hbB)" stroke="#2e2e96" stroke-width="1" />
<rect x="424.8" y="838.47" width="8" height="50.83" fill="url(#hbB)" stroke="#2e2e96" stroke-width="1" />
<rect x="438" y="821.51" width="8" height="67.79" fill="url(#hbB)" stroke="#2e2e96" stroke-width="1" />
<rect x="451.2" y="821.51" width="8" height="67.79" fill="url(#hbB)" stroke="#2e2e96" stroke-width="1" />
<rect x="464.4" y="804.59" width="8" height="84.71" fill="url(#hbB)" stroke="#2e2e96" stroke-width="1" />
<rect x="477.6" y="855.42" width="8" height="33.88" fill="url(#hbB)" stroke="#2e2e96" stroke-width="1" />
<rect x="490.8" y="855.42" width="8" height="33.88" fill="url(#hbB)" stroke="#2e2e96" stroke-width="1" />
<rect x="504" y="838.47" width="8" height="50.83" fill="url(#hbB)" stroke="#2e2e96" stroke-width="1" />
<rect x="517.2" y="855.42" width="8" height="33.88" fill="url(#hbB)" stroke="#2e2e96" stroke-width="1" />
<rect x="556.8" y="872.35" width="8" height="16.95" fill="url(#hbB)" stroke="#2e2e96" stroke-width="1" />
<rect x="330.8" y="749.51" width="6.6" height="139.79" fill="url(#hrF)" stroke="#cf1f2e" stroke-width="1" fill-opacity="0.85"/>
<rect x="339.55" y="813.05" width="6.6" height="76.25" fill="url(#hrF)" stroke="#cf1f2e" stroke-width="1" fill-opacity="0.85"/>
<rect x="348.3" y="833.38" width="6.6" height="55.92" fill="url(#hrF)" stroke="#cf1f2e" stroke-width="1" fill-opacity="0.85"/>
<rect x="357.05" y="851.17" width="6.6" height="38.13" fill="url(#hrF)" stroke="#cf1f2e" stroke-width="1" fill-opacity="0.85"/>
<rect x="365.8" y="851.17" width="6.6" height="38.13" fill="url(#hrF)" stroke="#cf1f2e" stroke-width="1" fill-opacity="0.85"/>
<rect x="374.55" y="848.63" width="6.6" height="40.67" fill="url(#hrF)" stroke="#cf1f2e" stroke-width="1" fill-opacity="0.85"/>
<rect x="383.3" y="853.72" width="6.6" height="35.58" fill="url(#hrF)" stroke="#cf1f2e" stroke-width="1" fill-opacity="0.85"/>
<rect x="392.05" y="851.17" width="6.6" height="38.13" fill="url(#hrF)" stroke="#cf1f2e" stroke-width="1" fill-opacity="0.85"/>
<rect x="400.8" y="861.34" width="6.6" height="27.96" fill="url(#hrF)" stroke="#cf1f2e" stroke-width="1" fill-opacity="0.85"/>
<rect x="409.55" y="871.51" width="6.6" height="17.79" fill="url(#hrF)" stroke="#cf1f2e" stroke-width="1" fill-opacity="0.85"/>
<rect x="418.3" y="871.51" width="6.6" height="17.79" fill="url(#hrF)" stroke="#cf1f2e" stroke-width="1" fill-opacity="0.85"/>
<rect x="427.05" y="876.59" width="6.6" height="12.71" fill="url(#hrF)" stroke="#cf1f2e" stroke-width="1" fill-opacity="0.85"/>
<rect x="435.8" y="881.67" width="6.6" height="7.63" fill="url(#hrF)" stroke="#cf1f2e" stroke-width="1" fill-opacity="0.85"/>
<rect x="444.55" y="881.67" width="6.6" height="7.63" fill="url(#hrF)" stroke="#cf1f2e" stroke-width="1" fill-opacity="0.85"/>
<rect x="453.3" y="880.4" width="6.6" height="8.9" fill="url(#hrF)" stroke="#cf1f2e" stroke-width="1" fill-opacity="0.85"/>
<rect x="462.05" y="877.86" width="6.6" height="11.44" fill="url(#hrF)" stroke="#cf1f2e" stroke-width="1" fill-opacity="0.85"/>
<rect x="470.8" y="881.67" width="6.6" height="7.63" fill="url(#hrF)" stroke="#cf1f2e" stroke-width="1" fill-opacity="0.85"/>
<rect x="479.55" y="884.22" width="6.6" height="5.08" fill="url(#hrF)" stroke="#cf1f2e" stroke-width="1" fill-opacity="0.85"/>
<rect x="488.3" y="884.22" width="6.6" height="5.08" fill="url(#hrF)" stroke="#cf1f2e" stroke-width="1" fill-opacity="0.85"/>
<rect x="497.05" y="882.95" width="6.6" height="6.35" fill="url(#hrF)" stroke="#cf1f2e" stroke-width="1" fill-opacity="0.85"/>
<rect x="505.8" y="886.76" width="6.6" height="2.54" fill="url(#hrF)" stroke="#cf1f2e" stroke-width="1" fill-opacity="0.85"/>
<rect x="514.55" y="886.25" width="6.6" height="3.05" fill="url(#hrF)" stroke="#cf1f2e" stroke-width="1" fill-opacity="0.85"/>
<rect x="523.3" y="886.76" width="6.6" height="2.54" fill="url(#hrF)" stroke="#cf1f2e" stroke-width="1" fill-opacity="0.85"/>
<rect x="532.05" y="887.77" width="6.6" height="1.53" fill="url(#hrF)" stroke="#cf1f2e" stroke-width="1" fill-opacity="0.85"/>
<rect x="540.8" y="888.03" width="6.6" height="1.27" fill="url(#hrF)" stroke="#cf1f2e" stroke-width="1" fill-opacity="0.85"/>
<rect x="549.55" y="888.03" width="6.6" height="1.27" fill="url(#hrF)" stroke="#cf1f2e" stroke-width="1" fill-opacity="0.85"/>
<rect x="558.3" y="888.03" width="6.6" height="1.27" fill="url(#hrF)" stroke="#cf1f2e" stroke-width="1" fill-opacity="0.85"/>
<rect x="567.05" y="888.28" width="6.6" height="1.02" fill="url(#hrF)" stroke="#cf1f2e" stroke-width="1" fill-opacity="0.85"/>
<rect x="575.8" y="888.28" width="6.6" height="1.02" fill="url(#hrF)" stroke="#cf1f2e" stroke-width="1" fill-opacity="0.85"/>
<rect x="584.55" y="888.28" width="6.6" height="1.02" fill="url(#hrF)" stroke="#cf1f2e" stroke-width="1" fill-opacity="0.85"/>
<rect x="593.3" y="888.28" width="6.6" height="1.02" fill="url(#hrF)" stroke="#cf1f2e" stroke-width="1" fill-opacity="0.85"/>
<rect x="602.05" y="888.28" width="6.6" height="1.02" fill="url(#hrF)" stroke="#cf1f2e" stroke-width="1" fill-opacity="0.85"/>
<rect x="610.8" y="888.28" width="6.6" height="1.02" fill="url(#hrF)" stroke="#cf1f2e" stroke-width="1" fill-opacity="0.85"/>
<rect x="619.55" y="888.28" width="6.6" height="1.02" fill="url(#hrF)" stroke="#cf1f2e" stroke-width="1" fill-opacity="0.85"/>
<rect x="628.3" y="888.28" width="6.6" height="1.02" fill="url(#hrF)" stroke="#cf1f2e" stroke-width="1" fill-opacity="0.85"/>
<rect x="637.05" y="888.28" width="6.6" height="1.02" fill="url(#hrF)" stroke="#cf1f2e" stroke-width="1" fill-opacity="0.85"/>
<line x1="646" y1="888.6" x2="681.2" y2="888.6" stroke="#2c2c90" stroke-width="2" />
<line x1="600" y1="888.6" x2="646" y2="888.6" stroke="#d42a36" stroke-width="1.6" />
<path d="M333 846 L333.44 845.24 L334.04 844.19 L334.75 842.94 L335.52 841.59 L336.29 840.25 L337 839 L337.65 837.82 L338.29 836.64 L338.93 835.45 L339.58 834.27 L340.26 833.12 L341 832 L341.7 830.99 L342.33 830.11 L342.99 829.24 L343.79 828.3 L344.82 827.19 L346.2 825.8 L346.87 825.15 L347.6 824.46 L348.39 823.72 L349.23 822.95 L350.12 822.14 L351.04 821.31 L352 820.45 L352.98 819.57 L353.98 818.68 L354.99 817.78 L356.01 816.88 L357.03 815.97 L358.03 815.07 L359.03 814.18 L360 813.3 L360.9 812.48 L361.82 811.65 L362.74 810.82 L363.67 809.98 L364.6 809.13 L365.54 808.28 L366.48 807.43 L367.43 806.57 L368.37 805.71 L369.32 804.85 L370.27 803.99 L371.22 803.13 L372.17 802.27 L373.12 801.41 L374.06 800.55 L375 799.7 L375.94 798.85 L376.87 798 L377.8 797.15 L378.73 796.3 L379.66 795.45 L380.59 794.6 L381.52 793.75 L382.46 792.9 L383.39 792.05 L384.32 791.2 L385.26 790.35 L386.2 789.5 L387.14 788.65 L388.09 787.8 L389.04 786.95 L390 786.1 L390.91 785.29 L391.82 784.45 L392.75 783.6 L393.68 782.74 L394.61 781.87 L395.55 780.99 L396.48 780.12 L397.42 779.25 L398.36 778.4 L399.3 777.56 L400.23 776.74 L401.16 775.94 L402.09 775.18 L403 774.45 L403.91 773.75 L404.81 773.1 L405.7 772.5 L406.94 771.73 L408.16 771.04 L409.36 770.42 L410.54 769.86 L411.72 769.36 L412.89 768.9 L414.06 768.47 L415.23 768.07 L416.41 767.68 L417.59 767.3 L418.79 766.91 L420 766.5 L421.23 766.09 L422.46 765.7 L423.7 765.32 L424.95 764.96 L426.2 764.62 L427.46 764.28 L428.71 763.96 L429.97 763.65 L431.23 763.35 L432.49 763.06 L433.75 762.77 L435 762.5 L436.25 762.24 L437.48 762 L438.72 761.78 L439.95 761.57 L441.18 761.37 L442.41 761.18 L443.65 760.99 L444.9 760.81 L446.15 760.62 L447.42 760.42 L448.7 760.22 L450 760 L451.21 759.79 L452.42 759.57 L453.64 759.34 L454.87 759.11 L456.11 758.88 L457.35 758.64 L458.6 758.41 L459.87 758.18 L461.15 757.95 L462.44 757.72 L463.74 757.51 L465.06 757.3 L466.4 757.1 L467.57 756.94 L468.76 756.78 L469.96 756.62 L471.16 756.47 L472.38 756.33 L473.61 756.19 L474.85 756.05 L476.09 755.91 L477.35 755.78 L478.61 755.65 L479.88 755.52 L481.15 755.39 L482.43 755.26 L483.71 755.13 L485 755 L486.19 754.88 L487.34 754.76 L488.46 754.64 L489.57 754.51 L490.67 754.4 L491.78 754.28 L492.89 754.16 L494.03 754.04 L495.2 753.93 L496.41 753.82 L497.68 753.71 L499 753.6 L500.39 753.5 L501.87 753.39 L503.43 753.3 L505.1 753.2 L506.07 753.15 L507.06 753.1 L508.1 753.05 L509.16 753 L510.25 752.95 L511.36 752.9 L512.5 752.86 L513.66 752.81 L514.85 752.77 L516.05 752.72 L517.27 752.68 L518.5 752.64 L519.75 752.59 L521 752.55 L522.27 752.51 L523.55 752.47 L524.83 752.43 L526.12 752.39 L527.4 752.35 L528.69 752.32 L529.98 752.28 L531.26 752.24 L532.54 752.21 L533.81 752.17 L535.08 752.13 L536.33 752.1 L537.57 752.07 L538.79 752.03 L540 752 L541.24 751.97 L542.48 751.93 L543.72 751.9 L544.96 751.87 L546.2 751.85 L547.44 751.82 L548.68 751.79 L549.91 751.77 L551.15 751.74 L552.38 751.72 L553.62 751.69 L554.85 751.67 L556.09 751.65 L557.32 751.62 L558.56 751.6 L559.8 751.58 L561.03 751.56 L562.27 751.54 L563.51 751.51 L564.75 751.49 L565.99 751.47 L567.23 751.45 L568.47 751.42 L569.71 751.4 L570.96 751.38 L572.2 751.35 L573.45 751.33 L574.7 751.3 L575.91 751.27 L577.13 751.25 L578.35 751.22 L579.58 751.19 L580.81 751.16 L582.05 751.13 L583.29 751.11 L584.53 751.08 L585.77 751.05 L587.01 751.02 L588.26 750.99 L589.51 750.96 L590.75 750.93 L591.99 750.9 L593.23 750.87 L594.47 750.84 L595.7 750.81 L596.93 750.78 L598.16 750.75 L599.38 750.72 L600.59 750.69 L601.8 750.67 L603 750.64 L604.19 750.62 L605.37 750.59 L606.54 750.57 L607.71 750.54 L608.86 750.52 L610 750.5 L611.33 750.48 L612.69 750.45 L614.08 750.43 L615.48 750.41 L616.9 750.39 L618.32 750.37 L619.75 750.35 L621.18 750.33 L622.6 750.31 L624.01 750.29 L625.4 750.27 L626.78 750.26 L628.13 750.24 L629.44 750.23 L630.73 750.21 L631.97 750.2 L633.16 750.18 L634.31 750.17 L635.4 750.16 L636.43 750.15 L637.39 750.14 L638.29 750.13 L639.11 750.12 L639.85 750.11 L640.5 750.1" fill="none" stroke="#d42a36" stroke-width="1.7" stroke-dasharray="5.5 3.5"/>
<path d="M334 877 L334.7 876.97 L335.55 876.92 L336.56 876.87 L337.7 876.81 L338.96 876.75 L340.33 876.69 L341.81 876.62 L343.37 876.56 L345 876.5 L346.05 876.48 L347.19 876.5 L348.42 876.54 L349.7 876.59 L351.04 876.65 L352.41 876.71 L353.8 876.76 L355.2 876.8 L356.59 876.81 L357.96 876.8 L359.3 876.74 L360.58 876.64 L361.81 876.49 L362.95 876.28 L364 876 L365.31 875.51 L366.52 874.93 L367.64 874.25 L368.69 873.49 L369.68 872.67 L370.62 871.79 L371.52 870.87 L372.4 869.92 L373.26 868.95 L374.12 867.97 L375 867 L375.79 866.1 L376.53 865.16 L377.24 864.2 L377.93 863.21 L378.6 862.21 L379.26 861.17 L379.91 860.13 L380.58 859.06 L381.26 857.99 L381.97 856.9 L382.72 855.8 L383.5 854.7 L384.2 853.73 L384.91 852.73 L385.64 851.7 L386.37 850.65 L387.12 849.59 L387.88 848.52 L388.66 847.44 L389.44 846.38 L390.24 845.32 L391.05 844.29 L391.87 843.29 L392.7 842.31 L393.54 841.38 L394.4 840.5 L395.34 839.59 L396.31 838.7 L397.31 837.84 L398.32 837.01 L399.35 836.2 L400.38 835.42 L401.43 834.66 L402.48 833.93 L403.52 833.23 L404.56 832.56 L405.59 831.91 L406.6 831.29 L407.6 830.7 L408.78 830.05 L409.97 829.47 L411.18 828.94 L412.38 828.45 L413.58 828 L414.75 827.57 L415.9 827.16 L417.01 826.76 L418.07 826.35 L419.07 825.94 L420 825.5 L421.27 824.9 L422.32 824.43 L423.24 824.01 L424.11 823.54 L425.02 822.91 L426.06 822.03 L427.3 820.8 L427.92 820.13 L428.58 819.37 L429.28 818.55 L430 817.66 L430.75 816.71 L431.51 815.72 L432.29 814.7 L433.09 813.64 L433.89 812.58 L434.69 811.5 L435.49 810.42 L436.28 809.36 L437.06 808.32 L437.83 807.3 L438.58 806.33 L439.3 805.4 L440.1 804.38 L440.88 803.37 L441.64 802.37 L442.4 801.38 L443.14 800.4 L443.88 799.43 L444.61 798.47 L445.35 797.52 L446.09 796.58 L446.84 795.65 L447.6 794.72 L448.38 793.81 L449.18 792.9 L450 792 L450.83 791.11 L451.64 790.24 L452.45 789.38 L453.27 788.53 L454.09 787.69 L454.92 786.86 L455.76 786.04 L456.63 785.22 L457.53 784.4 L458.46 783.59 L459.42 782.77 L460.43 781.95 L461.49 781.13 L462.6 780.3 L463.51 779.65 L464.48 778.98 L465.49 778.31 L466.54 777.63 L467.62 776.95 L468.73 776.26 L469.86 775.58 L471 774.9 L472.16 774.22 L473.31 773.55 L474.46 772.89 L475.6 772.24 L476.73 771.6 L477.83 770.98 L478.91 770.38 L479.95 769.8 L480.95 769.24 L481.9 768.7 L483.15 768 L484.35 767.33 L485.49 766.7 L486.6 766.09 L487.67 765.52 L488.71 764.97 L489.74 764.44 L490.76 763.92 L491.77 763.42 L492.8 762.93 L493.84 762.45 L494.9 761.98 L496 761.5 L497.09 761.03 L498.15 760.58 L499.17 760.14 L500.19 759.71 L501.21 759.3 L502.24 758.89 L503.29 758.5 L504.39 758.11 L505.54 757.74 L506.75 757.37 L508.04 757.01 L509.42 756.65 L510.9 756.3 L511.86 756.08 L512.84 755.87 L513.83 755.65 L514.84 755.43 L515.88 755.22 L516.93 755.01 L518.01 754.8 L519.11 754.59 L520.23 754.39 L521.38 754.19 L522.55 754 L523.76 753.81 L524.99 753.62 L526.25 753.44 L527.54 753.27 L528.86 753.11 L530.22 752.95 L531.61 752.8 L533.04 752.66 L534.5 752.52 L536 752.4 L537.03 752.32 L538.12 752.25 L539.26 752.18 L540.45 752.12 L541.69 752.06 L542.97 752 L544.28 751.95 L545.63 751.9 L547 751.86 L548.39 751.81 L549.8 751.77 L551.22 751.73 L552.64 751.7 L554.07 751.67 L555.5 751.63 L556.92 751.61 L558.33 751.58 L559.72 751.55 L561.08 751.53 L562.42 751.51 L563.73 751.49 L565.01 751.47 L566.24 751.45 L567.43 751.43 L568.56 751.41 L569.64 751.4 L570.67 751.38 L571.62 751.37 L572.51 751.35 L573.32 751.33 L574.05 751.32 L574.7 751.3" fill="none" stroke="#3434a4" stroke-width="1.7" stroke-dasharray="5.5 3.5"/>
<rect x="504.3" y="780.3" width="27.9" height="13.5" fill="url(#hrB)" stroke="#cf1f2e" stroke-width="1"/>
<rect x="504.3" y="797.7" width="27.9" height="13.5" fill="url(#hbF)" stroke="#2e2e96" stroke-width="1"/>
<rect x="330.5" y="736.8" width="350.7" height="152.5" fill="none" stroke="#000" stroke-width="1.3"/>
<line x1="327.1" y1="889.3" x2="330.5" y2="889.3" stroke="#000" stroke-width="1.1" />
<line x1="327.1" y1="863.88" x2="330.5" y2="863.88" stroke="#000" stroke-width="1.1" />
<line x1="327.1" y1="838.47" x2="330.5" y2="838.47" stroke="#000" stroke-width="1.1" />
<line x1="327.1" y1="813.05" x2="330.5" y2="813.05" stroke="#000" stroke-width="1.1" />
<line x1="327.1" y1="787.63" x2="330.5" y2="787.63" stroke="#000" stroke-width="1.1" />
<line x1="327.1" y1="762.21" x2="330.5" y2="762.21" stroke="#000" stroke-width="1.1" />
<line x1="327.1" y1="736.8" x2="330.5" y2="736.8" stroke="#000" stroke-width="1.1" />
<line x1="328.3" y1="876.59" x2="330.5" y2="876.59" stroke="#000" stroke-width="1.1" />
<line x1="328.3" y1="851.17" x2="330.5" y2="851.17" stroke="#000" stroke-width="1.1" />
<line x1="328.3" y1="825.76" x2="330.5" y2="825.76" stroke="#000" stroke-width="1.1" />
<line x1="328.3" y1="800.34" x2="330.5" y2="800.34" stroke="#000" stroke-width="1.1" />
<line x1="328.3" y1="774.92" x2="330.5" y2="774.92" stroke="#000" stroke-width="1.1" />
<line x1="328.3" y1="749.51" x2="330.5" y2="749.51" stroke="#000" stroke-width="1.1" />
<line x1="674.4" y1="872.35" x2="677.8" y2="872.35" stroke="#000" stroke-width="1.1" />
<line x1="674.4" y1="855.4" x2="677.8" y2="855.4" stroke="#000" stroke-width="1.1" />
<line x1="674.4" y1="838.45" x2="677.8" y2="838.45" stroke="#000" stroke-width="1.1" />
<line x1="674.4" y1="821.5" x2="677.8" y2="821.5" stroke="#000" stroke-width="1.1" />
<line x1="674.4" y1="804.55" x2="677.8" y2="804.55" stroke="#000" stroke-width="1.1" />
<line x1="674.4" y1="787.6" x2="677.8" y2="787.6" stroke="#000" stroke-width="1.1" />
<line x1="674.4" y1="770.65" x2="677.8" y2="770.65" stroke="#000" stroke-width="1.1" />
<line x1="674.4" y1="753.7" x2="677.8" y2="753.7" stroke="#000" stroke-width="1.1" />
<line x1="330.5" y1="889.3" x2="330.5" y2="892.7" stroke="#000" stroke-width="1.1" />
<line x1="374.25" y1="889.3" x2="374.25" y2="891.5" stroke="#000" stroke-width="1.1" />
<line x1="374.25" y1="736.8" x2="374.25" y2="739.2" stroke="#000" stroke-width="1.1" />
<line x1="418" y1="889.3" x2="418" y2="892.7" stroke="#000" stroke-width="1.1" />
<line x1="418" y1="736.8" x2="418" y2="740.2" stroke="#000" stroke-width="1.1" />
<line x1="461.75" y1="889.3" x2="461.75" y2="891.5" stroke="#000" stroke-width="1.1" />
<line x1="461.75" y1="736.8" x2="461.75" y2="739.2" stroke="#000" stroke-width="1.1" />
<line x1="505.5" y1="889.3" x2="505.5" y2="892.7" stroke="#000" stroke-width="1.1" />
<line x1="505.5" y1="736.8" x2="505.5" y2="740.2" stroke="#000" stroke-width="1.1" />
<line x1="549.25" y1="889.3" x2="549.25" y2="891.5" stroke="#000" stroke-width="1.1" />
<line x1="549.25" y1="736.8" x2="549.25" y2="739.2" stroke="#000" stroke-width="1.1" />
<line x1="593" y1="889.3" x2="593" y2="892.7" stroke="#000" stroke-width="1.1" />
<line x1="593" y1="736.8" x2="593" y2="740.2" stroke="#000" stroke-width="1.1" />
<line x1="636.75" y1="889.3" x2="636.75" y2="891.5" stroke="#000" stroke-width="1.1" />
<line x1="636.75" y1="736.8" x2="636.75" y2="739.2" stroke="#000" stroke-width="1.1" />
<line x1="680.5" y1="889.3" x2="680.5" y2="892.7" stroke="#000" stroke-width="1.1" />
<text x="321.6" y="893.6" font-size="12" text-anchor="end">0</text>
<text x="321.6" y="868.18" font-size="12" text-anchor="end">10</text>
<text x="321.6" y="842.77" font-size="12" text-anchor="end">20</text>
<text x="321.6" y="817.35" font-size="12" text-anchor="end">30</text>
<text x="321.6" y="791.93" font-size="12" text-anchor="end">40</text>
<text x="321.6" y="766.51" font-size="12" text-anchor="end">50</text>
<text x="321.6" y="741.1" font-size="12" text-anchor="end">60</text>
<text x="330.5" y="908.3" font-size="11.5" text-anchor="middle" >0</text>
<text x="418" y="908.3" font-size="11.5" text-anchor="middle" >1</text>
<text x="505.5" y="908.3" font-size="11.5" text-anchor="middle" >2</text>
<text x="593" y="908.3" font-size="11.5" text-anchor="middle" >3</text>
<text x="680.5" y="908.3" font-size="11.5" text-anchor="middle" >4</text>
<text x="538" y="792.3" font-size="12" text-anchor="start" ><tspan font-style="italic">T</tspan> = 37 °C, <tspan font-style="italic">v</tspan> = 10 µm s<tspan dy="-4.5" font-size="8.5">−1</tspan></text>
<text x="538" y="809" font-size="12" text-anchor="start" ><tspan font-style="italic">T</tspan> = 25 °C, <tspan font-style="italic">v</tspan> = 6 µm s<tspan dy="-4.5" font-size="8.5">−1</tspan></text>
<text x="636.4" y="853.3" font-size="12.2" text-anchor="middle" class="l" >Hertz</text>
<text x="636.2" y="866.9" font-size="12.2" text-anchor="middle" class="l" >model</text>
<text x="505.7" y="924.6" font-size="12.2" text-anchor="middle" class="l" >Elastic modulus (kPa)</text>
</svg></body></html>
